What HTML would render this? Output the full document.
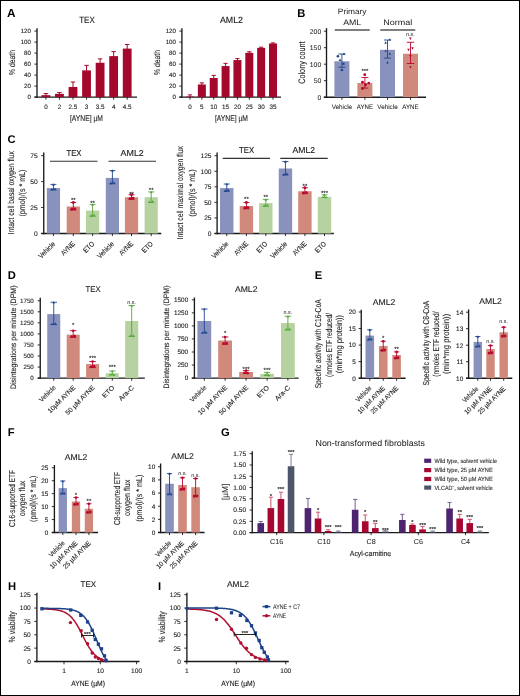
<!DOCTYPE html>
<html><head><meta charset="utf-8"><style>
html,body{margin:0;padding:0;background:#fff;}
svg{display:block;will-change:transform;text-rendering:geometricPrecision;font-family:"Liberation Sans",sans-serif;}
</style></head><body>
<svg width="520" height="696" viewBox="0 0 520 696">
<rect x="0" y="0" width="520" height="696" fill="#fff"/>
<text x="7" y="17.3" font-size="11.8" fill="#000" font-weight="bold">A</text>
<line x1="37" y1="28.2" x2="37" y2="97.77" stroke="#1a1a1a" stroke-width="1.35"/>
<line x1="34.4" y1="97.1" x2="37" y2="97.1" stroke="#1a1a1a" stroke-width="0.9"/>
<text x="31" y="99.33" font-size="6.2" text-anchor="end" fill="#262626" stroke="#262626" stroke-width="0.12">0</text>
<line x1="34.4" y1="86.1" x2="37" y2="86.1" stroke="#1a1a1a" stroke-width="0.9"/>
<text x="31" y="88.33" font-size="6.2" text-anchor="end" fill="#262626" stroke="#262626" stroke-width="0.12">20</text>
<line x1="34.4" y1="75.1" x2="37" y2="75.1" stroke="#1a1a1a" stroke-width="0.9"/>
<text x="31" y="77.33" font-size="6.2" text-anchor="end" fill="#262626" stroke="#262626" stroke-width="0.12">40</text>
<line x1="34.4" y1="64.1" x2="37" y2="64.1" stroke="#1a1a1a" stroke-width="0.9"/>
<text x="31" y="66.33" font-size="6.2" text-anchor="end" fill="#262626" stroke="#262626" stroke-width="0.12">60</text>
<line x1="34.4" y1="53.1" x2="37" y2="53.1" stroke="#1a1a1a" stroke-width="0.9"/>
<text x="31" y="55.33" font-size="6.2" text-anchor="end" fill="#262626" stroke="#262626" stroke-width="0.12">80</text>
<line x1="34.4" y1="42.1" x2="37" y2="42.1" stroke="#1a1a1a" stroke-width="0.9"/>
<text x="31" y="44.33" font-size="6.2" text-anchor="end" fill="#262626" stroke="#262626" stroke-width="0.12">100</text>
<line x1="34.4" y1="31.1" x2="37" y2="31.1" stroke="#1a1a1a" stroke-width="0.9"/>
<text x="31" y="33.33" font-size="6.2" text-anchor="end" fill="#262626" stroke="#262626" stroke-width="0.12">120</text>
<line x1="34.5" y1="97.1" x2="137" y2="97.1" stroke="#1a1a1a" stroke-width="1.35"/>
<text x="87" y="22.6" font-size="9" text-anchor="middle" fill="#1a1a1a" textLength="15.5" lengthAdjust="spacingAndGlyphs" stroke="#1a1a1a" stroke-width="0.12">TEX</text>
<line x1="45.9" y1="93.58" x2="45.9" y2="96.17" stroke="#A4082D" stroke-width="1"/>
<line x1="43.7" y1="93.58" x2="48.1" y2="93.58" stroke="#A4082D" stroke-width="1"/>
<rect x="41.5" y="95.17" width="8.8" height="1.92" fill="#A4082D"/>
<line x1="45.9" y1="97.1" x2="45.9" y2="99.7" stroke="#1a1a1a" stroke-width="0.9"/>
<text x="45.9" y="109" font-size="6.3" text-anchor="middle" fill="#262626" stroke="#262626" stroke-width="0.12">0</text>
<line x1="59.45" y1="92.59" x2="59.45" y2="94.85" stroke="#A4082D" stroke-width="1"/>
<line x1="57.25" y1="92.59" x2="61.65" y2="92.59" stroke="#A4082D" stroke-width="1"/>
<rect x="55.05" y="93.85" width="8.8" height="3.25" fill="#A4082D"/>
<line x1="59.45" y1="97.1" x2="59.45" y2="99.7" stroke="#1a1a1a" stroke-width="0.9"/>
<text x="59.45" y="109" font-size="6.3" text-anchor="middle" fill="#262626" stroke="#262626" stroke-width="0.12">2</text>
<line x1="73" y1="81.97" x2="73" y2="87.98" stroke="#A4082D" stroke-width="1"/>
<line x1="70.8" y1="81.97" x2="75.2" y2="81.97" stroke="#A4082D" stroke-width="1"/>
<rect x="68.6" y="86.98" width="8.8" height="10.12" fill="#A4082D"/>
<line x1="73" y1="97.1" x2="73" y2="99.7" stroke="#1a1a1a" stroke-width="0.9"/>
<text x="73" y="109" font-size="6.3" text-anchor="middle" fill="#262626" stroke="#262626" stroke-width="0.12">2.5</text>
<line x1="86.55" y1="65.36" x2="86.55" y2="71.37" stroke="#A4082D" stroke-width="1"/>
<line x1="84.35" y1="65.36" x2="88.75" y2="65.36" stroke="#A4082D" stroke-width="1"/>
<rect x="82.15" y="70.37" width="8.8" height="26.73" fill="#A4082D"/>
<line x1="86.55" y1="97.1" x2="86.55" y2="99.7" stroke="#1a1a1a" stroke-width="0.9"/>
<text x="86.55" y="109" font-size="6.3" text-anchor="middle" fill="#262626" stroke="#262626" stroke-width="0.12">3</text>
<line x1="100.1" y1="58.87" x2="100.1" y2="63.78" stroke="#A4082D" stroke-width="1"/>
<line x1="97.9" y1="58.87" x2="102.3" y2="58.87" stroke="#A4082D" stroke-width="1"/>
<rect x="95.7" y="62.78" width="8.8" height="34.32" fill="#A4082D"/>
<line x1="100.1" y1="97.1" x2="100.1" y2="99.7" stroke="#1a1a1a" stroke-width="0.9"/>
<text x="100.1" y="109" font-size="6.3" text-anchor="middle" fill="#262626" stroke="#262626" stroke-width="0.12">3.5</text>
<line x1="113.65" y1="51.61" x2="113.65" y2="57.12" stroke="#A4082D" stroke-width="1"/>
<line x1="111.45" y1="51.61" x2="115.85" y2="51.61" stroke="#A4082D" stroke-width="1"/>
<rect x="109.25" y="56.12" width="8.8" height="40.98" fill="#A4082D"/>
<line x1="113.65" y1="97.1" x2="113.65" y2="99.7" stroke="#1a1a1a" stroke-width="0.9"/>
<text x="113.65" y="109" font-size="6.3" text-anchor="middle" fill="#262626" stroke="#262626" stroke-width="0.12">4</text>
<line x1="127.2" y1="44.52" x2="127.2" y2="49.59" stroke="#A4082D" stroke-width="1"/>
<line x1="125" y1="44.52" x2="129.4" y2="44.52" stroke="#A4082D" stroke-width="1"/>
<rect x="122.8" y="48.59" width="8.8" height="48.51" fill="#A4082D"/>
<line x1="127.2" y1="97.1" x2="127.2" y2="99.7" stroke="#1a1a1a" stroke-width="0.9"/>
<text x="127.2" y="109" font-size="6.3" text-anchor="middle" fill="#262626" stroke="#262626" stroke-width="0.12">4.5</text>
<text x="86.5" y="121.3" font-size="8.2" text-anchor="middle" fill="#262626" textLength="33" lengthAdjust="spacingAndGlyphs" stroke="#262626" stroke-width="0.12">[AYNE] µM</text>
<text x="14.8" y="62.5" font-size="8.6" text-anchor="middle" fill="#262626" textLength="25" lengthAdjust="spacingAndGlyphs" transform="rotate(-90 14.8 62.5)" stroke="#262626" stroke-width="0.12">% death</text>
<line x1="181.9" y1="28.2" x2="181.9" y2="97.77" stroke="#1a1a1a" stroke-width="1.35"/>
<line x1="179.3" y1="97.1" x2="181.9" y2="97.1" stroke="#1a1a1a" stroke-width="0.9"/>
<text x="176" y="99.33" font-size="6.2" text-anchor="end" fill="#262626" stroke="#262626" stroke-width="0.12">0</text>
<line x1="179.3" y1="86.1" x2="181.9" y2="86.1" stroke="#1a1a1a" stroke-width="0.9"/>
<text x="176" y="88.33" font-size="6.2" text-anchor="end" fill="#262626" stroke="#262626" stroke-width="0.12">20</text>
<line x1="179.3" y1="75.1" x2="181.9" y2="75.1" stroke="#1a1a1a" stroke-width="0.9"/>
<text x="176" y="77.33" font-size="6.2" text-anchor="end" fill="#262626" stroke="#262626" stroke-width="0.12">40</text>
<line x1="179.3" y1="64.1" x2="181.9" y2="64.1" stroke="#1a1a1a" stroke-width="0.9"/>
<text x="176" y="66.33" font-size="6.2" text-anchor="end" fill="#262626" stroke="#262626" stroke-width="0.12">60</text>
<line x1="179.3" y1="53.1" x2="181.9" y2="53.1" stroke="#1a1a1a" stroke-width="0.9"/>
<text x="176" y="55.33" font-size="6.2" text-anchor="end" fill="#262626" stroke="#262626" stroke-width="0.12">80</text>
<line x1="179.3" y1="42.1" x2="181.9" y2="42.1" stroke="#1a1a1a" stroke-width="0.9"/>
<text x="176" y="44.33" font-size="6.2" text-anchor="end" fill="#262626" stroke="#262626" stroke-width="0.12">100</text>
<line x1="179.3" y1="31.1" x2="181.9" y2="31.1" stroke="#1a1a1a" stroke-width="0.9"/>
<text x="176" y="33.33" font-size="6.2" text-anchor="end" fill="#262626" stroke="#262626" stroke-width="0.12">120</text>
<line x1="179.3" y1="97.1" x2="281" y2="97.1" stroke="#1a1a1a" stroke-width="1.35"/>
<text x="231.5" y="22.8" font-size="9" text-anchor="middle" fill="#1a1a1a" textLength="23" lengthAdjust="spacingAndGlyphs" stroke="#1a1a1a" stroke-width="0.12">AML2</text>
<line x1="190" y1="94.9" x2="190" y2="97.55" stroke="#A4082D" stroke-width="1"/>
<line x1="187.9" y1="94.9" x2="192.1" y2="94.9" stroke="#A4082D" stroke-width="1"/>
<rect x="186" y="96.55" width="8" height="0.55" fill="#A4082D"/>
<line x1="190" y1="97.1" x2="190" y2="99.7" stroke="#1a1a1a" stroke-width="0.9"/>
<text x="190" y="109" font-size="6.3" text-anchor="middle" fill="#262626" stroke="#262626" stroke-width="0.12">0</text>
<line x1="201.86" y1="82.85" x2="201.86" y2="85.5" stroke="#A4082D" stroke-width="1"/>
<line x1="199.76" y1="82.85" x2="203.96" y2="82.85" stroke="#A4082D" stroke-width="1"/>
<rect x="197.86" y="84.5" width="8" height="12.59" fill="#A4082D"/>
<line x1="201.86" y1="97.1" x2="201.86" y2="99.7" stroke="#1a1a1a" stroke-width="0.9"/>
<text x="201.86" y="109" font-size="6.3" text-anchor="middle" fill="#262626" stroke="#262626" stroke-width="0.12">5</text>
<line x1="213.72" y1="75.38" x2="213.72" y2="79.01" stroke="#A4082D" stroke-width="1"/>
<line x1="211.62" y1="75.38" x2="215.82" y2="75.38" stroke="#A4082D" stroke-width="1"/>
<rect x="209.72" y="78.01" width="8" height="19.09" fill="#A4082D"/>
<line x1="213.72" y1="97.1" x2="213.72" y2="99.7" stroke="#1a1a1a" stroke-width="0.9"/>
<text x="213.72" y="109" font-size="6.3" text-anchor="middle" fill="#262626" stroke="#262626" stroke-width="0.12">10</text>
<line x1="225.58" y1="63.33" x2="225.58" y2="67.08" stroke="#A4082D" stroke-width="1"/>
<line x1="223.48" y1="63.33" x2="227.68" y2="63.33" stroke="#A4082D" stroke-width="1"/>
<rect x="221.58" y="66.08" width="8" height="31.02" fill="#A4082D"/>
<line x1="225.58" y1="97.1" x2="225.58" y2="99.7" stroke="#1a1a1a" stroke-width="0.9"/>
<text x="225.58" y="109" font-size="6.3" text-anchor="middle" fill="#262626" stroke="#262626" stroke-width="0.12">15</text>
<line x1="237.44" y1="58.6" x2="237.44" y2="61.08" stroke="#A4082D" stroke-width="1"/>
<line x1="235.34" y1="58.6" x2="239.54" y2="58.6" stroke="#A4082D" stroke-width="1"/>
<rect x="233.44" y="60.08" width="8" height="37.02" fill="#A4082D"/>
<line x1="237.44" y1="97.1" x2="237.44" y2="99.7" stroke="#1a1a1a" stroke-width="0.9"/>
<text x="237.44" y="109" font-size="6.3" text-anchor="middle" fill="#262626" stroke="#262626" stroke-width="0.12">20</text>
<line x1="249.3" y1="51.72" x2="249.3" y2="53.82" stroke="#A4082D" stroke-width="1"/>
<line x1="247.2" y1="51.72" x2="251.4" y2="51.72" stroke="#A4082D" stroke-width="1"/>
<rect x="245.3" y="52.82" width="8" height="44.28" fill="#A4082D"/>
<line x1="249.3" y1="97.1" x2="249.3" y2="99.7" stroke="#1a1a1a" stroke-width="0.9"/>
<text x="249.3" y="109" font-size="6.3" text-anchor="middle" fill="#262626" stroke="#262626" stroke-width="0.12">25</text>
<line x1="261.16" y1="47.21" x2="261.16" y2="48.87" stroke="#A4082D" stroke-width="1"/>
<line x1="259.06" y1="47.21" x2="263.26" y2="47.21" stroke="#A4082D" stroke-width="1"/>
<rect x="257.16" y="47.87" width="8" height="49.23" fill="#A4082D"/>
<line x1="261.16" y1="97.1" x2="261.16" y2="99.7" stroke="#1a1a1a" stroke-width="0.9"/>
<text x="261.16" y="109" font-size="6.3" text-anchor="middle" fill="#262626" stroke="#262626" stroke-width="0.12">30</text>
<line x1="273.02" y1="42.92" x2="273.02" y2="44.47" stroke="#A4082D" stroke-width="1"/>
<line x1="270.92" y1="42.92" x2="275.12" y2="42.92" stroke="#A4082D" stroke-width="1"/>
<rect x="269.02" y="43.47" width="8" height="53.63" fill="#A4082D"/>
<line x1="273.02" y1="97.1" x2="273.02" y2="99.7" stroke="#1a1a1a" stroke-width="0.9"/>
<text x="273.02" y="109" font-size="6.3" text-anchor="middle" fill="#262626" stroke="#262626" stroke-width="0.12">35</text>
<text x="231.5" y="121.3" font-size="8.2" text-anchor="middle" fill="#262626" textLength="33" lengthAdjust="spacingAndGlyphs" stroke="#262626" stroke-width="0.12">[AYNE] µM</text>
<text x="159.5" y="62.5" font-size="8.6" text-anchor="middle" fill="#262626" textLength="25" lengthAdjust="spacingAndGlyphs" transform="rotate(-90 159.5 62.5)" stroke="#262626" stroke-width="0.12">% death</text>
<text x="297.2" y="17" font-size="11.2" fill="#000" font-weight="bold">B</text>
<line x1="326.5" y1="28.1" x2="326.5" y2="97.88" stroke="#1a1a1a" stroke-width="1.35"/>
<line x1="323.9" y1="97.2" x2="326.5" y2="97.2" stroke="#1a1a1a" stroke-width="0.9"/>
<text x="321.2" y="99.65" font-size="6.8" text-anchor="end" fill="#262626" stroke="#262626" stroke-width="0.04">0</text>
<line x1="323.9" y1="80.7" x2="326.5" y2="80.7" stroke="#1a1a1a" stroke-width="0.9"/>
<text x="321.2" y="83.15" font-size="6.8" text-anchor="end" fill="#262626" stroke="#262626" stroke-width="0.04">50</text>
<line x1="323.9" y1="64.2" x2="326.5" y2="64.2" stroke="#1a1a1a" stroke-width="0.9"/>
<text x="321.2" y="66.65" font-size="6.8" text-anchor="end" fill="#262626" stroke="#262626" stroke-width="0.04">100</text>
<line x1="323.9" y1="47.7" x2="326.5" y2="47.7" stroke="#1a1a1a" stroke-width="0.9"/>
<text x="321.2" y="50.15" font-size="6.8" text-anchor="end" fill="#262626" stroke="#262626" stroke-width="0.04">150</text>
<line x1="323.9" y1="31.2" x2="326.5" y2="31.2" stroke="#1a1a1a" stroke-width="0.9"/>
<text x="321.2" y="33.65" font-size="6.8" text-anchor="end" fill="#262626" stroke="#262626" stroke-width="0.04">200</text>
<line x1="323.8" y1="97.2" x2="426" y2="97.2" stroke="#1a1a1a" stroke-width="1.35"/>
<text x="304.8" y="62.6" font-size="9.4" text-anchor="middle" fill="#262626" textLength="42.3" lengthAdjust="spacingAndGlyphs" transform="rotate(-90 304.8 62.6)" stroke="#262626" stroke-width="0.1">Colony count</text>
<text x="352.2" y="14" font-size="7.8" text-anchor="middle" fill="#1a1a1a" textLength="28.7" lengthAdjust="spacingAndGlyphs">Primary</text>
<text x="352.2" y="24.6" font-size="8" text-anchor="middle" fill="#1a1a1a" textLength="18" lengthAdjust="spacingAndGlyphs">AML</text>
<text x="397.7" y="25" font-size="8" text-anchor="middle" fill="#1a1a1a" textLength="29" lengthAdjust="spacingAndGlyphs">Normal</text>
<line x1="334.75" y1="30" x2="369.75" y2="30" stroke="#555" stroke-width="1.5"/>
<line x1="380.25" y1="30" x2="415.25" y2="30" stroke="#555" stroke-width="1.5"/>
<rect x="334.4" y="61.3" width="15" height="35.9" fill="#8991BD"/>
<line x1="341.9" y1="97.2" x2="341.9" y2="99.8" stroke="#1a1a1a" stroke-width="0.9"/>
<text x="341.9" y="109" font-size="6.6" text-anchor="middle" fill="#262626" textLength="20.4" lengthAdjust="spacingAndGlyphs" stroke="#262626" stroke-width="0.05">Vehicle</text>
<rect x="357.4" y="83.01" width="15" height="14.19" fill="#D1897C"/>
<line x1="364.9" y1="97.2" x2="364.9" y2="99.8" stroke="#1a1a1a" stroke-width="0.9"/>
<text x="364.9" y="109" font-size="6.6" text-anchor="middle" fill="#262626" textLength="16.3" lengthAdjust="spacingAndGlyphs" stroke="#262626" stroke-width="0.05">AYNE</text>
<rect x="380" y="49.84" width="15" height="47.36" fill="#8991BD"/>
<line x1="387.5" y1="97.2" x2="387.5" y2="99.8" stroke="#1a1a1a" stroke-width="0.9"/>
<text x="387.5" y="109" font-size="6.6" text-anchor="middle" fill="#262626" textLength="20.4" lengthAdjust="spacingAndGlyphs" stroke="#262626" stroke-width="0.05">Vehicle</text>
<rect x="403" y="53.74" width="15" height="43.46" fill="#D1897C"/>
<line x1="410.5" y1="97.2" x2="410.5" y2="99.8" stroke="#1a1a1a" stroke-width="0.9"/>
<text x="410.5" y="109" font-size="6.6" text-anchor="middle" fill="#262626" textLength="16.3" lengthAdjust="spacingAndGlyphs" stroke="#262626" stroke-width="0.05">AYNE</text>
<line x1="341.9" y1="54" x2="341.9" y2="67.25" stroke="#1E4590" stroke-width="0.9"/>
<line x1="338.4" y1="54" x2="345.4" y2="54" stroke="#1E4590" stroke-width="0.9"/>
<line x1="338.4" y1="67.25" x2="345.4" y2="67.25" stroke="#1E4590" stroke-width="0.9"/>
<circle cx="337.9" cy="56.25" r="1.3" fill="#1E4590"/>
<path d="M342.6 55.01L345.4 55.01L344 52.49Z" stroke="none" fill="#1E4590" stroke-width="1"/>
<path d="M338.6 61.01L341.4 61.01L340 58.49Z" stroke="none" fill="#1E4590" stroke-width="1"/>
<rect x="342.4" y="62.65" width="2.2" height="2.2" fill="#1E4590"/>
<circle cx="341.9" cy="70" r="1.3" fill="#1E4590"/>
<line x1="364.9" y1="77.5" x2="364.9" y2="88.1" stroke="#B8062E" stroke-width="0.9"/>
<line x1="361.4" y1="77.5" x2="368.4" y2="77.5" stroke="#B8062E" stroke-width="0.9"/>
<line x1="361.4" y1="88.1" x2="368.4" y2="88.1" stroke="#B8062E" stroke-width="0.9"/>
<circle cx="364.75" cy="74.75" r="1.4" fill="#B8062E"/>
<circle cx="362.5" cy="82.25" r="1.4" fill="#B8062E"/>
<circle cx="368.75" cy="83.1" r="1.4" fill="#B8062E"/>
<circle cx="365.6" cy="84.75" r="1.4" fill="#B8062E"/>
<circle cx="362.5" cy="88.5" r="1.4" fill="#B8062E"/>
<line x1="387.5" y1="40" x2="387.5" y2="58.1" stroke="#1E4590" stroke-width="0.9"/>
<line x1="383.9" y1="40" x2="391.1" y2="40" stroke="#1E4590" stroke-width="0.9"/>
<line x1="383.9" y1="58.1" x2="391.1" y2="58.1" stroke="#1E4590" stroke-width="0.9"/>
<path d="M388.45 40.57L391.05 40.57L389.75 38.23Z" stroke="none" fill="#1E4590" stroke-width="1"/>
<path d="M384.3 43.67L386.9 43.67L385.6 41.33Z" stroke="none" fill="#1E4590" stroke-width="1"/>
<path d="M384.3 51.77L386.9 51.77L385.6 49.43Z" stroke="none" fill="#1E4590" stroke-width="1"/>
<path d="M388.45 54.67L391.05 54.67L389.75 52.33Z" stroke="none" fill="#1E4590" stroke-width="1"/>
<path d="M386.2 63.42L388.8 63.42L387.5 61.08Z" stroke="none" fill="#1E4590" stroke-width="1"/>
<line x1="410.5" y1="42.25" x2="410.5" y2="63.5" stroke="#B8062E" stroke-width="0.9"/>
<line x1="406.8" y1="42.25" x2="414.2" y2="42.25" stroke="#B8062E" stroke-width="0.9"/>
<line x1="406.8" y1="63.5" x2="414.2" y2="63.5" stroke="#B8062E" stroke-width="0.9"/>
<path d="M409.1 37.58L411.7 37.58L410.4 39.92Z" stroke="none" fill="#B8062E" stroke-width="1"/>
<path d="M407.2 48.83L409.8 48.83L408.5 51.17Z" stroke="none" fill="#B8062E" stroke-width="1"/>
<path d="M411.2 47.33L413.8 47.33L412.5 49.67Z" stroke="none" fill="#B8062E" stroke-width="1"/>
<path d="M409.1 55.08L411.7 55.08L410.4 57.42Z" stroke="none" fill="#B8062E" stroke-width="1"/>
<path d="M409.1 66.33L411.7 66.33L410.4 68.67Z" stroke="none" fill="#B8062E" stroke-width="1"/>
<text x="364.9" y="73.14" font-size="6" text-anchor="middle" fill="#1a1a1a" stroke="#1a1a1a" stroke-width="0.1">***</text>
<text x="410.4" y="35.7" font-size="5.4" text-anchor="middle" fill="#333" stroke="#333" stroke-width="0.05">n.s.</text>
<text x="7.4" y="142.6" font-size="11.2" fill="#000" font-weight="bold">C</text>
<line x1="43.75" y1="152.6" x2="43.75" y2="234.18" stroke="#1a1a1a" stroke-width="1.35"/>
<line x1="41.15" y1="233.5" x2="43.75" y2="233.5" stroke="#1a1a1a" stroke-width="0.9"/>
<text x="37.6" y="235.88" font-size="6.6" text-anchor="end" fill="#262626" stroke="#262626" stroke-width="0.12">0</text>
<line x1="41.15" y1="207.53" x2="43.75" y2="207.53" stroke="#1a1a1a" stroke-width="0.9"/>
<text x="37.6" y="209.91" font-size="6.6" text-anchor="end" fill="#262626" stroke="#262626" stroke-width="0.12">25</text>
<line x1="41.15" y1="181.57" x2="43.75" y2="181.57" stroke="#1a1a1a" stroke-width="0.9"/>
<text x="37.6" y="183.94" font-size="6.6" text-anchor="end" fill="#262626" stroke="#262626" stroke-width="0.12">50</text>
<line x1="41.15" y1="155.6" x2="43.75" y2="155.6" stroke="#1a1a1a" stroke-width="0.9"/>
<text x="37.6" y="157.98" font-size="6.6" text-anchor="end" fill="#262626" stroke="#262626" stroke-width="0.12">75</text>
<line x1="41.2" y1="233.5" x2="161.3" y2="233.5" stroke="#1a1a1a" stroke-width="1.35"/>
<text x="74" y="156.1" font-size="8.6" text-anchor="middle" fill="#1a1a1a" textLength="15" lengthAdjust="spacingAndGlyphs" stroke="#1a1a1a" stroke-width="0.12">TEX</text>
<text x="132.2" y="156.2" font-size="8.6" text-anchor="middle" fill="#1a1a1a" textLength="23.2" lengthAdjust="spacingAndGlyphs" stroke="#1a1a1a" stroke-width="0.12">AML2</text>
<line x1="50" y1="161.25" x2="97.5" y2="161.25" stroke="#333" stroke-width="1.1"/>
<line x1="108.5" y1="161.25" x2="156" y2="161.25" stroke="#333" stroke-width="1.1"/>
<rect x="46.85" y="188.1" width="13.2" height="45.4" fill="#8991BD"/>
<line x1="53.45" y1="184.4" x2="53.45" y2="190" stroke="#1E4590" stroke-width="0.9"/>
<line x1="50.45" y1="184.4" x2="56.45" y2="184.4" stroke="#1E4590" stroke-width="0.9"/>
<line x1="50.45" y1="190" x2="56.45" y2="190" stroke="#1E4590" stroke-width="0.9"/>
<path d="M52.05 185.66L54.85 185.66L53.45 183.14Z" stroke="none" fill="#1E4590" stroke-width="1"/>
<path d="M50.55 190.46L53.35 190.46L51.95 187.94Z" stroke="none" fill="#1E4590" stroke-width="1"/>
<path d="M53.55 190.06L56.35 190.06L54.95 187.54Z" stroke="none" fill="#1E4590" stroke-width="1"/>
<line x1="53.45" y1="233.5" x2="53.45" y2="236.1" stroke="#1a1a1a" stroke-width="0.9"/>
<text x="55.65" y="244.4" font-size="7.2" text-anchor="end" fill="#262626" textLength="20.5" lengthAdjust="spacingAndGlyphs" transform="rotate(-45 55.65 244.4)" stroke="#262626" stroke-width="0.12">Vehicle</text>
<rect x="66.7" y="206.5" width="13.2" height="27" fill="#D1897C"/>
<line x1="73.3" y1="202.5" x2="73.3" y2="210" stroke="#B8062E" stroke-width="0.9"/>
<line x1="70.3" y1="202.5" x2="76.3" y2="202.5" stroke="#B8062E" stroke-width="0.9"/>
<line x1="70.3" y1="210" x2="76.3" y2="210" stroke="#B8062E" stroke-width="0.9"/>
<circle cx="73.3" cy="202.5" r="1.4" fill="#B8062E"/>
<circle cx="71.8" cy="209.2" r="1.4" fill="#B8062E"/>
<circle cx="74.8" cy="208.8" r="1.4" fill="#B8062E"/>
<text x="73.3" y="201.74" font-size="6" text-anchor="middle" fill="#1a1a1a" stroke="#1a1a1a" stroke-width="0.1">**</text>
<line x1="73.3" y1="233.5" x2="73.3" y2="236.1" stroke="#1a1a1a" stroke-width="0.9"/>
<text x="75.5" y="244.4" font-size="7.2" text-anchor="end" fill="#262626" textLength="16.5" lengthAdjust="spacingAndGlyphs" transform="rotate(-45 75.5 244.4)" stroke="#262626" stroke-width="0.12">AYNE</text>
<rect x="86" y="210.6" width="13.2" height="22.9" fill="#B5D2A0"/>
<line x1="92.6" y1="204.4" x2="92.6" y2="216.25" stroke="#57A83A" stroke-width="0.9"/>
<line x1="89.6" y1="204.4" x2="95.6" y2="204.4" stroke="#57A83A" stroke-width="0.9"/>
<line x1="89.6" y1="216.25" x2="95.6" y2="216.25" stroke="#57A83A" stroke-width="0.9"/>
<path d="M91.2 205.66L94 205.66L92.6 203.14Z" stroke="none" fill="#57A83A" stroke-width="1"/>
<path d="M89.7 216.71L92.5 216.71L91.1 214.19Z" stroke="none" fill="#57A83A" stroke-width="1"/>
<path d="M92.7 216.31L95.5 216.31L94.1 213.79Z" stroke="none" fill="#57A83A" stroke-width="1"/>
<text x="92.6" y="204.54" font-size="6" text-anchor="middle" fill="#1a1a1a" stroke="#1a1a1a" stroke-width="0.1">**</text>
<line x1="92.6" y1="233.5" x2="92.6" y2="236.1" stroke="#1a1a1a" stroke-width="0.9"/>
<text x="94.8" y="244.4" font-size="7.2" text-anchor="end" fill="#262626" textLength="12.5" lengthAdjust="spacingAndGlyphs" transform="rotate(-45 94.8 244.4)" stroke="#262626" stroke-width="0.12">ETO</text>
<rect x="105.8" y="177.9" width="13.2" height="55.6" fill="#8991BD"/>
<line x1="112.4" y1="170.6" x2="112.4" y2="183.75" stroke="#1E4590" stroke-width="0.9"/>
<line x1="109.4" y1="170.6" x2="115.4" y2="170.6" stroke="#1E4590" stroke-width="0.9"/>
<line x1="109.4" y1="183.75" x2="115.4" y2="183.75" stroke="#1E4590" stroke-width="0.9"/>
<path d="M111 171.86L113.8 171.86L112.4 169.34Z" stroke="none" fill="#1E4590" stroke-width="1"/>
<path d="M109.5 184.21L112.3 184.21L110.9 181.69Z" stroke="none" fill="#1E4590" stroke-width="1"/>
<path d="M112.5 183.81L115.3 183.81L113.9 181.29Z" stroke="none" fill="#1E4590" stroke-width="1"/>
<line x1="112.4" y1="233.5" x2="112.4" y2="236.1" stroke="#1a1a1a" stroke-width="0.9"/>
<text x="114.6" y="244.4" font-size="7.2" text-anchor="end" fill="#262626" textLength="20.5" lengthAdjust="spacingAndGlyphs" transform="rotate(-45 114.6 244.4)" stroke="#262626" stroke-width="0.12">Vehicle</text>
<rect x="124.9" y="197.2" width="13.2" height="36.3" fill="#D1897C"/>
<line x1="131.5" y1="194.75" x2="131.5" y2="199.4" stroke="#B8062E" stroke-width="0.9"/>
<line x1="128.5" y1="194.75" x2="134.5" y2="194.75" stroke="#B8062E" stroke-width="0.9"/>
<line x1="128.5" y1="199.4" x2="134.5" y2="199.4" stroke="#B8062E" stroke-width="0.9"/>
<circle cx="131.5" cy="194.75" r="1.4" fill="#B8062E"/>
<circle cx="130" cy="198.6" r="1.4" fill="#B8062E"/>
<circle cx="133" cy="198.2" r="1.4" fill="#B8062E"/>
<text x="131.5" y="195.74" font-size="6" text-anchor="middle" fill="#1a1a1a" stroke="#1a1a1a" stroke-width="0.1">**</text>
<line x1="131.5" y1="233.5" x2="131.5" y2="236.1" stroke="#1a1a1a" stroke-width="0.9"/>
<text x="133.7" y="244.4" font-size="7.2" text-anchor="end" fill="#262626" textLength="16.5" lengthAdjust="spacingAndGlyphs" transform="rotate(-45 133.7 244.4)" stroke="#262626" stroke-width="0.12">AYNE</text>
<rect x="144.6" y="197.2" width="13.2" height="36.3" fill="#B5D2A0"/>
<line x1="151.2" y1="191.9" x2="151.2" y2="202.5" stroke="#57A83A" stroke-width="0.9"/>
<line x1="148.2" y1="191.9" x2="154.2" y2="191.9" stroke="#57A83A" stroke-width="0.9"/>
<line x1="148.2" y1="202.5" x2="154.2" y2="202.5" stroke="#57A83A" stroke-width="0.9"/>
<path d="M149.8 193.16L152.6 193.16L151.2 190.64Z" stroke="none" fill="#57A83A" stroke-width="1"/>
<path d="M148.3 202.96L151.1 202.96L149.7 200.44Z" stroke="none" fill="#57A83A" stroke-width="1"/>
<path d="M151.3 202.56L154.1 202.56L152.7 200.04Z" stroke="none" fill="#57A83A" stroke-width="1"/>
<text x="151.2" y="192.14" font-size="6" text-anchor="middle" fill="#1a1a1a" stroke="#1a1a1a" stroke-width="0.1">**</text>
<line x1="151.2" y1="233.5" x2="151.2" y2="236.1" stroke="#1a1a1a" stroke-width="0.9"/>
<text x="153.4" y="244.4" font-size="7.2" text-anchor="end" fill="#262626" textLength="12.5" lengthAdjust="spacingAndGlyphs" transform="rotate(-45 153.4 244.4)" stroke="#262626" stroke-width="0.12">ETO</text>
<text x="14.2" y="192.7" font-size="8.6" text-anchor="middle" fill="#262626" textLength="83.4" lengthAdjust="spacingAndGlyphs" transform="rotate(-90 14.2 192.7)" stroke="#262626" stroke-width="0.12">Intact cell basal oxygen flux</text>
<text x="25.3" y="193" font-size="8.6" text-anchor="middle" fill="#262626" textLength="47" lengthAdjust="spacingAndGlyphs" transform="rotate(-90 25.3 193)" stroke="#262626" stroke-width="0.12">(pmol)/(s * mL)</text>
<line x1="217.1" y1="152.5" x2="217.1" y2="234.18" stroke="#1a1a1a" stroke-width="1.35"/>
<line x1="214.5" y1="233.5" x2="217.1" y2="233.5" stroke="#1a1a1a" stroke-width="0.9"/>
<text x="211.5" y="235.88" font-size="6.6" text-anchor="end" fill="#262626" stroke="#262626" stroke-width="0.12">0</text>
<line x1="214.5" y1="217.94" x2="217.1" y2="217.94" stroke="#1a1a1a" stroke-width="0.9"/>
<text x="211.5" y="220.32" font-size="6.6" text-anchor="end" fill="#262626" stroke="#262626" stroke-width="0.12">25</text>
<line x1="214.5" y1="202.38" x2="217.1" y2="202.38" stroke="#1a1a1a" stroke-width="0.9"/>
<text x="211.5" y="204.76" font-size="6.6" text-anchor="end" fill="#262626" stroke="#262626" stroke-width="0.12">50</text>
<line x1="214.5" y1="186.82" x2="217.1" y2="186.82" stroke="#1a1a1a" stroke-width="0.9"/>
<text x="211.5" y="189.2" font-size="6.6" text-anchor="end" fill="#262626" stroke="#262626" stroke-width="0.12">75</text>
<line x1="214.5" y1="171.26" x2="217.1" y2="171.26" stroke="#1a1a1a" stroke-width="0.9"/>
<text x="211.5" y="173.64" font-size="6.6" text-anchor="end" fill="#262626" stroke="#262626" stroke-width="0.12">100</text>
<line x1="214.5" y1="155.7" x2="217.1" y2="155.7" stroke="#1a1a1a" stroke-width="0.9"/>
<text x="211.5" y="158.08" font-size="6.6" text-anchor="end" fill="#262626" stroke="#262626" stroke-width="0.12">125</text>
<line x1="214.5" y1="233.5" x2="333.8" y2="233.5" stroke="#1a1a1a" stroke-width="1.35"/>
<text x="246.6" y="153.1" font-size="8.6" text-anchor="middle" fill="#1a1a1a" textLength="15" lengthAdjust="spacingAndGlyphs" stroke="#1a1a1a" stroke-width="0.12">TEX</text>
<text x="303.8" y="153.1" font-size="8.6" text-anchor="middle" fill="#1a1a1a" textLength="22.5" lengthAdjust="spacingAndGlyphs" stroke="#1a1a1a" stroke-width="0.12">AML2</text>
<line x1="222.75" y1="158.4" x2="270" y2="158.4" stroke="#333" stroke-width="1.1"/>
<line x1="280.25" y1="158.4" x2="327.75" y2="158.4" stroke="#333" stroke-width="1.1"/>
<rect x="220.05" y="188.1" width="13.4" height="45.4" fill="#8991BD"/>
<line x1="226.75" y1="184" x2="226.75" y2="191.25" stroke="#1E4590" stroke-width="0.9"/>
<line x1="223.75" y1="184" x2="229.75" y2="184" stroke="#1E4590" stroke-width="0.9"/>
<line x1="223.75" y1="191.25" x2="229.75" y2="191.25" stroke="#1E4590" stroke-width="0.9"/>
<path d="M225.35 185.26L228.15 185.26L226.75 182.74Z" stroke="none" fill="#1E4590" stroke-width="1"/>
<path d="M223.85 191.71L226.65 191.71L225.25 189.19Z" stroke="none" fill="#1E4590" stroke-width="1"/>
<path d="M226.85 191.31L229.65 191.31L228.25 188.79Z" stroke="none" fill="#1E4590" stroke-width="1"/>
<line x1="226.75" y1="233.5" x2="226.75" y2="236.1" stroke="#1a1a1a" stroke-width="0.9"/>
<text x="228.95" y="244.4" font-size="7.2" text-anchor="end" fill="#262626" textLength="20.5" lengthAdjust="spacingAndGlyphs" transform="rotate(-45 228.95 244.4)" stroke="#262626" stroke-width="0.12">Vehicle</text>
<rect x="239.7" y="206" width="13.4" height="27.5" fill="#D1897C"/>
<line x1="246.4" y1="202.5" x2="246.4" y2="208.75" stroke="#B8062E" stroke-width="0.9"/>
<line x1="243.4" y1="202.5" x2="249.4" y2="202.5" stroke="#B8062E" stroke-width="0.9"/>
<line x1="243.4" y1="208.75" x2="249.4" y2="208.75" stroke="#B8062E" stroke-width="0.9"/>
<circle cx="246.4" cy="202.5" r="1.4" fill="#B8062E"/>
<circle cx="244.9" cy="207.95" r="1.4" fill="#B8062E"/>
<circle cx="247.9" cy="207.55" r="1.4" fill="#B8062E"/>
<text x="246.4" y="200.74" font-size="6" text-anchor="middle" fill="#1a1a1a" stroke="#1a1a1a" stroke-width="0.1">**</text>
<line x1="246.4" y1="233.5" x2="246.4" y2="236.1" stroke="#1a1a1a" stroke-width="0.9"/>
<text x="248.6" y="244.4" font-size="7.2" text-anchor="end" fill="#262626" textLength="16.5" lengthAdjust="spacingAndGlyphs" transform="rotate(-45 248.6 244.4)" stroke="#262626" stroke-width="0.12">AYNE</text>
<rect x="259.1" y="203.1" width="13.4" height="30.4" fill="#B5D2A0"/>
<line x1="265.8" y1="199.4" x2="265.8" y2="206.25" stroke="#57A83A" stroke-width="0.9"/>
<line x1="262.8" y1="199.4" x2="268.8" y2="199.4" stroke="#57A83A" stroke-width="0.9"/>
<line x1="262.8" y1="206.25" x2="268.8" y2="206.25" stroke="#57A83A" stroke-width="0.9"/>
<path d="M264.4 200.66L267.2 200.66L265.8 198.14Z" stroke="none" fill="#57A83A" stroke-width="1"/>
<path d="M262.9 206.71L265.7 206.71L264.3 204.19Z" stroke="none" fill="#57A83A" stroke-width="1"/>
<path d="M265.9 206.31L268.7 206.31L267.3 203.79Z" stroke="none" fill="#57A83A" stroke-width="1"/>
<text x="265.8" y="198.64" font-size="6" text-anchor="middle" fill="#1a1a1a" stroke="#1a1a1a" stroke-width="0.1">**</text>
<line x1="265.8" y1="233.5" x2="265.8" y2="236.1" stroke="#1a1a1a" stroke-width="0.9"/>
<text x="268" y="244.4" font-size="7.2" text-anchor="end" fill="#262626" textLength="12.5" lengthAdjust="spacingAndGlyphs" transform="rotate(-45 268 244.4)" stroke="#262626" stroke-width="0.12">ETO</text>
<rect x="278.75" y="168.5" width="13.4" height="65" fill="#8991BD"/>
<line x1="285.45" y1="161.5" x2="285.45" y2="175" stroke="#1E4590" stroke-width="0.9"/>
<line x1="282.45" y1="161.5" x2="288.45" y2="161.5" stroke="#1E4590" stroke-width="0.9"/>
<line x1="282.45" y1="175" x2="288.45" y2="175" stroke="#1E4590" stroke-width="0.9"/>
<path d="M284.05 162.76L286.85 162.76L285.45 160.24Z" stroke="none" fill="#1E4590" stroke-width="1"/>
<path d="M282.55 175.46L285.35 175.46L283.95 172.94Z" stroke="none" fill="#1E4590" stroke-width="1"/>
<path d="M285.55 175.06L288.35 175.06L286.95 172.54Z" stroke="none" fill="#1E4590" stroke-width="1"/>
<line x1="285.45" y1="233.5" x2="285.45" y2="236.1" stroke="#1a1a1a" stroke-width="0.9"/>
<text x="287.65" y="244.4" font-size="7.2" text-anchor="end" fill="#262626" textLength="20.5" lengthAdjust="spacingAndGlyphs" transform="rotate(-45 287.65 244.4)" stroke="#262626" stroke-width="0.12">Vehicle</text>
<rect x="298.2" y="191.25" width="13.4" height="42.25" fill="#D1897C"/>
<line x1="304.9" y1="187.75" x2="304.9" y2="193.75" stroke="#B8062E" stroke-width="0.9"/>
<line x1="301.9" y1="187.75" x2="307.9" y2="187.75" stroke="#B8062E" stroke-width="0.9"/>
<line x1="301.9" y1="193.75" x2="307.9" y2="193.75" stroke="#B8062E" stroke-width="0.9"/>
<circle cx="304.9" cy="187.75" r="1.4" fill="#B8062E"/>
<circle cx="303.4" cy="192.95" r="1.4" fill="#B8062E"/>
<circle cx="306.4" cy="192.55" r="1.4" fill="#B8062E"/>
<text x="304.9" y="187.74" font-size="6" text-anchor="middle" fill="#1a1a1a" stroke="#1a1a1a" stroke-width="0.1">**</text>
<line x1="304.9" y1="233.5" x2="304.9" y2="236.1" stroke="#1a1a1a" stroke-width="0.9"/>
<text x="307.1" y="244.4" font-size="7.2" text-anchor="end" fill="#262626" textLength="16.5" lengthAdjust="spacingAndGlyphs" transform="rotate(-45 307.1 244.4)" stroke="#262626" stroke-width="0.12">AYNE</text>
<rect x="317.8" y="196.9" width="13.4" height="36.6" fill="#B5D2A0"/>
<line x1="324.5" y1="194.75" x2="324.5" y2="197.5" stroke="#57A83A" stroke-width="0.9"/>
<line x1="321.5" y1="194.75" x2="327.5" y2="194.75" stroke="#57A83A" stroke-width="0.9"/>
<line x1="321.5" y1="197.5" x2="327.5" y2="197.5" stroke="#57A83A" stroke-width="0.9"/>
<path d="M323.1 196.01L325.9 196.01L324.5 193.49Z" stroke="none" fill="#57A83A" stroke-width="1"/>
<path d="M321.6 197.96L324.4 197.96L323 195.44Z" stroke="none" fill="#57A83A" stroke-width="1"/>
<path d="M324.6 198.36L327.4 198.36L326 195.84Z" stroke="none" fill="#57A83A" stroke-width="1"/>
<text x="324.5" y="194.84" font-size="6" text-anchor="middle" fill="#1a1a1a" stroke="#1a1a1a" stroke-width="0.1">***</text>
<line x1="324.5" y1="233.5" x2="324.5" y2="236.1" stroke="#1a1a1a" stroke-width="0.9"/>
<text x="326.7" y="244.4" font-size="7.2" text-anchor="end" fill="#262626" textLength="12.5" lengthAdjust="spacingAndGlyphs" transform="rotate(-45 326.7 244.4)" stroke="#262626" stroke-width="0.12">ETO</text>
<text x="183.3" y="192.75" font-size="8.6" text-anchor="middle" fill="#262626" textLength="93.5" lengthAdjust="spacingAndGlyphs" transform="rotate(-90 183.3 192.75)" stroke="#262626" stroke-width="0.12">Intact cell maximal oxygen flux</text>
<text x="195.2" y="193" font-size="8.6" text-anchor="middle" fill="#262626" textLength="47.5" lengthAdjust="spacingAndGlyphs" transform="rotate(-90 195.2 193)" stroke="#262626" stroke-width="0.12">(pmol)/(s * mL)</text>
<text x="7.7" y="278.8" font-size="11.2" fill="#000" font-weight="bold">D</text>
<line x1="40.25" y1="297.7" x2="40.25" y2="378.78" stroke="#1a1a1a" stroke-width="1.35"/>
<line x1="37.65" y1="378.1" x2="40.25" y2="378.1" stroke="#1a1a1a" stroke-width="0.9"/>
<text x="33.8" y="380.33" font-size="6.2" text-anchor="end" fill="#262626" stroke="#262626" stroke-width="0.12">0</text>
<line x1="37.65" y1="367.05" x2="40.25" y2="367.05" stroke="#1a1a1a" stroke-width="0.9"/>
<text x="33.8" y="369.28" font-size="6.2" text-anchor="end" fill="#262626" stroke="#262626" stroke-width="0.12">250</text>
<line x1="37.65" y1="356" x2="40.25" y2="356" stroke="#1a1a1a" stroke-width="0.9"/>
<text x="33.8" y="358.23" font-size="6.2" text-anchor="end" fill="#262626" stroke="#262626" stroke-width="0.12">500</text>
<line x1="37.65" y1="344.95" x2="40.25" y2="344.95" stroke="#1a1a1a" stroke-width="0.9"/>
<text x="33.8" y="347.18" font-size="6.2" text-anchor="end" fill="#262626" stroke="#262626" stroke-width="0.12">750</text>
<line x1="37.65" y1="333.9" x2="40.25" y2="333.9" stroke="#1a1a1a" stroke-width="0.9"/>
<text x="33.8" y="336.13" font-size="6.2" text-anchor="end" fill="#262626" stroke="#262626" stroke-width="0.12">1000</text>
<line x1="37.65" y1="322.85" x2="40.25" y2="322.85" stroke="#1a1a1a" stroke-width="0.9"/>
<text x="33.8" y="325.08" font-size="6.2" text-anchor="end" fill="#262626" stroke="#262626" stroke-width="0.12">1250</text>
<line x1="37.65" y1="311.8" x2="40.25" y2="311.8" stroke="#1a1a1a" stroke-width="0.9"/>
<text x="33.8" y="314.03" font-size="6.2" text-anchor="end" fill="#262626" stroke="#262626" stroke-width="0.12">1500</text>
<line x1="37.65" y1="300.75" x2="40.25" y2="300.75" stroke="#1a1a1a" stroke-width="0.9"/>
<text x="33.8" y="302.98" font-size="6.2" text-anchor="end" fill="#262626" stroke="#262626" stroke-width="0.12">1750</text>
<line x1="37.6" y1="378.1" x2="144.8" y2="378.1" stroke="#1a1a1a" stroke-width="1.35"/>
<text x="93.1" y="292.3" font-size="8.4" text-anchor="middle" fill="#1a1a1a" textLength="15" lengthAdjust="spacingAndGlyphs" stroke="#1a1a1a" stroke-width="0.12">TEX</text>
<rect x="47.25" y="314.1" width="13" height="64" fill="#8991BD"/>
<line x1="53.75" y1="302.25" x2="53.75" y2="324.6" stroke="#1E4590" stroke-width="0.9"/>
<line x1="50.5" y1="302.25" x2="57" y2="302.25" stroke="#1E4590" stroke-width="0.9"/>
<line x1="50.5" y1="324.6" x2="57" y2="324.6" stroke="#1E4590" stroke-width="0.9"/>
<path d="M52.45 303.42L55.05 303.42L53.75 301.08Z" stroke="none" fill="#1E4590" stroke-width="1"/>
<path d="M50.95 324.97L53.55 324.97L52.25 322.63Z" stroke="none" fill="#1E4590" stroke-width="1"/>
<path d="M53.95 324.57L56.55 324.57L55.25 322.23Z" stroke="none" fill="#1E4590" stroke-width="1"/>
<line x1="53.75" y1="378.1" x2="53.75" y2="380.7" stroke="#1a1a1a" stroke-width="0.9"/>
<text x="56.35" y="388.1" font-size="6.6" text-anchor="end" fill="#262626" textLength="20.5" lengthAdjust="spacingAndGlyphs" transform="rotate(-45 56.35 388.1)" stroke="#262626" stroke-width="0.12">Vehicle</text>
<rect x="66.7" y="334.7" width="13" height="43.4" fill="#D1897C"/>
<line x1="73.2" y1="330.7" x2="73.2" y2="337.3" stroke="#B8062E" stroke-width="0.9"/>
<line x1="69.95" y1="330.7" x2="76.45" y2="330.7" stroke="#B8062E" stroke-width="0.9"/>
<line x1="69.95" y1="337.3" x2="76.45" y2="337.3" stroke="#B8062E" stroke-width="0.9"/>
<circle cx="73.2" cy="330.7" r="1.3" fill="#B8062E"/>
<circle cx="71.7" cy="336.5" r="1.3" fill="#B8062E"/>
<circle cx="74.7" cy="336.1" r="1.3" fill="#B8062E"/>
<text x="73.2" y="327.34" font-size="6" text-anchor="middle" fill="#1a1a1a" stroke="#1a1a1a" stroke-width="0.1">*</text>
<line x1="73.2" y1="378.1" x2="73.2" y2="380.7" stroke="#1a1a1a" stroke-width="0.9"/>
<text x="75.8" y="388.1" font-size="6.6" text-anchor="end" fill="#262626" textLength="36" lengthAdjust="spacingAndGlyphs" transform="rotate(-45 75.8 388.1)" stroke="#262626" stroke-width="0.12">10µM AYNE</text>
<rect x="86.1" y="364.1" width="13" height="14" fill="#D1897C"/>
<line x1="92.6" y1="361.5" x2="92.6" y2="367.6" stroke="#B8062E" stroke-width="0.9"/>
<line x1="89.35" y1="361.5" x2="95.85" y2="361.5" stroke="#B8062E" stroke-width="0.9"/>
<line x1="89.35" y1="367.6" x2="95.85" y2="367.6" stroke="#B8062E" stroke-width="0.9"/>
<circle cx="92.6" cy="361.5" r="1.3" fill="#B8062E"/>
<circle cx="91.1" cy="366.8" r="1.3" fill="#B8062E"/>
<circle cx="94.1" cy="366.4" r="1.3" fill="#B8062E"/>
<text x="92.6" y="359.84" font-size="6" text-anchor="middle" fill="#1a1a1a" stroke="#1a1a1a" stroke-width="0.1">***</text>
<line x1="92.6" y1="378.1" x2="92.6" y2="380.7" stroke="#1a1a1a" stroke-width="0.9"/>
<text x="95.2" y="388.1" font-size="6.6" text-anchor="end" fill="#262626" textLength="38.5" lengthAdjust="spacingAndGlyphs" transform="rotate(-45 95.2 388.1)" stroke="#262626" stroke-width="0.12">50 µM AYNE</text>
<rect x="105.8" y="373.3" width="13" height="4.8" fill="#B5D2A0"/>
<line x1="112.3" y1="371" x2="112.3" y2="375" stroke="#57A83A" stroke-width="0.9"/>
<line x1="109.05" y1="371" x2="115.55" y2="371" stroke="#57A83A" stroke-width="0.9"/>
<line x1="109.05" y1="375" x2="115.55" y2="375" stroke="#57A83A" stroke-width="0.9"/>
<path d="M111 372.17L113.6 372.17L112.3 369.83Z" stroke="none" fill="#57A83A" stroke-width="1"/>
<path d="M109.5 375.37L112.1 375.37L110.8 373.03Z" stroke="none" fill="#57A83A" stroke-width="1"/>
<path d="M112.5 375.77L115.1 375.77L113.8 373.43Z" stroke="none" fill="#57A83A" stroke-width="1"/>
<text x="112.3" y="369.34" font-size="6" text-anchor="middle" fill="#1a1a1a" stroke="#1a1a1a" stroke-width="0.1">***</text>
<line x1="112.3" y1="378.1" x2="112.3" y2="380.7" stroke="#1a1a1a" stroke-width="0.9"/>
<text x="114.9" y="388.1" font-size="6.6" text-anchor="end" fill="#262626" textLength="14.5" lengthAdjust="spacingAndGlyphs" transform="rotate(-45 114.9 388.1)" stroke="#262626" stroke-width="0.12">ETO</text>
<rect x="125.2" y="321" width="13" height="57.1" fill="#B5D2A0"/>
<line x1="131.7" y1="305.6" x2="131.7" y2="336.5" stroke="#57A83A" stroke-width="0.9"/>
<line x1="128.45" y1="305.6" x2="134.95" y2="305.6" stroke="#57A83A" stroke-width="0.9"/>
<line x1="128.45" y1="336.5" x2="134.95" y2="336.5" stroke="#57A83A" stroke-width="0.9"/>
<path d="M130.4 306.77L133 306.77L131.7 304.43Z" stroke="none" fill="#57A83A" stroke-width="1"/>
<path d="M128.9 336.87L131.5 336.87L130.2 334.53Z" stroke="none" fill="#57A83A" stroke-width="1"/>
<path d="M131.9 336.47L134.5 336.47L133.2 334.13Z" stroke="none" fill="#57A83A" stroke-width="1"/>
<text x="131.7" y="303.6" font-size="5.4" text-anchor="middle" fill="#333" stroke="#333" stroke-width="0.05">n.s.</text>
<line x1="131.7" y1="378.1" x2="131.7" y2="380.7" stroke="#1a1a1a" stroke-width="0.9"/>
<text x="134.3" y="388.1" font-size="6.6" text-anchor="end" fill="#262626" textLength="18.5" lengthAdjust="spacingAndGlyphs" transform="rotate(-45 134.3 388.1)" stroke="#262626" stroke-width="0.12">Ara-C</text>
<text x="15.5" y="337.25" font-size="7.9" text-anchor="middle" fill="#262626" textLength="103.5" lengthAdjust="spacingAndGlyphs" transform="rotate(-90 15.5 337.25)" stroke="#262626" stroke-width="0.12">Disintegrations per minute (DPM)</text>
<line x1="194.4" y1="297.5" x2="194.4" y2="378.78" stroke="#1a1a1a" stroke-width="1.35"/>
<line x1="191.8" y1="378.1" x2="194.4" y2="378.1" stroke="#1a1a1a" stroke-width="0.9"/>
<text x="188.2" y="380.4" font-size="6.4" text-anchor="end" fill="#262626" stroke="#262626" stroke-width="0.12">0</text>
<line x1="191.8" y1="365.05" x2="194.4" y2="365.05" stroke="#1a1a1a" stroke-width="0.9"/>
<text x="188.2" y="367.35" font-size="6.4" text-anchor="end" fill="#262626" stroke="#262626" stroke-width="0.12">250</text>
<line x1="191.8" y1="352" x2="194.4" y2="352" stroke="#1a1a1a" stroke-width="0.9"/>
<text x="188.2" y="354.3" font-size="6.4" text-anchor="end" fill="#262626" stroke="#262626" stroke-width="0.12">500</text>
<line x1="191.8" y1="338.95" x2="194.4" y2="338.95" stroke="#1a1a1a" stroke-width="0.9"/>
<text x="188.2" y="341.25" font-size="6.4" text-anchor="end" fill="#262626" stroke="#262626" stroke-width="0.12">750</text>
<line x1="191.8" y1="325.9" x2="194.4" y2="325.9" stroke="#1a1a1a" stroke-width="0.9"/>
<text x="188.2" y="328.2" font-size="6.4" text-anchor="end" fill="#262626" stroke="#262626" stroke-width="0.12">1000</text>
<line x1="191.8" y1="312.85" x2="194.4" y2="312.85" stroke="#1a1a1a" stroke-width="0.9"/>
<text x="188.2" y="315.15" font-size="6.4" text-anchor="end" fill="#262626" stroke="#262626" stroke-width="0.12">1250</text>
<line x1="191.8" y1="299.8" x2="194.4" y2="299.8" stroke="#1a1a1a" stroke-width="0.9"/>
<text x="188.2" y="302.1" font-size="6.4" text-anchor="end" fill="#262626" stroke="#262626" stroke-width="0.12">1500</text>
<line x1="191.8" y1="378.1" x2="298.6" y2="378.1" stroke="#1a1a1a" stroke-width="1.35"/>
<text x="246.2" y="292.3" font-size="8.4" text-anchor="middle" fill="#1a1a1a" textLength="22.5" lengthAdjust="spacingAndGlyphs" stroke="#1a1a1a" stroke-width="0.12">AML2</text>
<rect x="197.4" y="321" width="13.8" height="57.1" fill="#8991BD"/>
<line x1="204.3" y1="309" x2="204.3" y2="333.1" stroke="#1E4590" stroke-width="0.9"/>
<line x1="201.05" y1="309" x2="207.55" y2="309" stroke="#1E4590" stroke-width="0.9"/>
<line x1="201.05" y1="333.1" x2="207.55" y2="333.1" stroke="#1E4590" stroke-width="0.9"/>
<path d="M203 310.17L205.6 310.17L204.3 307.83Z" stroke="none" fill="#1E4590" stroke-width="1"/>
<path d="M201.5 333.47L204.1 333.47L202.8 331.13Z" stroke="none" fill="#1E4590" stroke-width="1"/>
<path d="M204.5 333.07L207.1 333.07L205.8 330.73Z" stroke="none" fill="#1E4590" stroke-width="1"/>
<line x1="204.3" y1="378.1" x2="204.3" y2="380.7" stroke="#1a1a1a" stroke-width="0.9"/>
<text x="206.9" y="388.1" font-size="6.6" text-anchor="end" fill="#262626" textLength="20.5" lengthAdjust="spacingAndGlyphs" transform="rotate(-45 206.9 388.1)" stroke="#262626" stroke-width="0.12">Vehicle</text>
<rect x="218.2" y="340.5" width="13.8" height="37.6" fill="#D1897C"/>
<line x1="225.1" y1="337" x2="225.1" y2="344.3" stroke="#B8062E" stroke-width="0.9"/>
<line x1="221.85" y1="337" x2="228.35" y2="337" stroke="#B8062E" stroke-width="0.9"/>
<line x1="221.85" y1="344.3" x2="228.35" y2="344.3" stroke="#B8062E" stroke-width="0.9"/>
<circle cx="225.1" cy="337" r="1.3" fill="#B8062E"/>
<circle cx="223.6" cy="343.5" r="1.3" fill="#B8062E"/>
<circle cx="226.6" cy="343.1" r="1.3" fill="#B8062E"/>
<text x="225.1" y="334.54" font-size="6" text-anchor="middle" fill="#1a1a1a" stroke="#1a1a1a" stroke-width="0.1">*</text>
<line x1="225.1" y1="378.1" x2="225.1" y2="380.7" stroke="#1a1a1a" stroke-width="0.9"/>
<text x="227.7" y="388.1" font-size="6.6" text-anchor="end" fill="#262626" textLength="38.5" lengthAdjust="spacingAndGlyphs" transform="rotate(-45 227.7 388.1)" stroke="#262626" stroke-width="0.12">10 µM AYNE</text>
<rect x="239.2" y="372" width="13.8" height="6.1" fill="#D1897C"/>
<line x1="246.1" y1="370.6" x2="246.1" y2="373.5" stroke="#B8062E" stroke-width="0.9"/>
<line x1="242.85" y1="370.6" x2="249.35" y2="370.6" stroke="#B8062E" stroke-width="0.9"/>
<line x1="242.85" y1="373.5" x2="249.35" y2="373.5" stroke="#B8062E" stroke-width="0.9"/>
<circle cx="246.1" cy="370.6" r="1.3" fill="#B8062E"/>
<circle cx="244.6" cy="372.7" r="1.3" fill="#B8062E"/>
<circle cx="247.6" cy="373.1" r="1.3" fill="#B8062E"/>
<text x="246.1" y="370.64" font-size="6" text-anchor="middle" fill="#1a1a1a" stroke="#1a1a1a" stroke-width="0.1">***</text>
<line x1="246.1" y1="378.1" x2="246.1" y2="380.7" stroke="#1a1a1a" stroke-width="0.9"/>
<text x="248.7" y="388.1" font-size="6.6" text-anchor="end" fill="#262626" textLength="38.5" lengthAdjust="spacingAndGlyphs" transform="rotate(-45 248.7 388.1)" stroke="#262626" stroke-width="0.12">50 µM AYNE</text>
<rect x="260.2" y="373.9" width="13.8" height="4.2" fill="#B5D2A0"/>
<line x1="267.1" y1="372.4" x2="267.1" y2="375.4" stroke="#57A83A" stroke-width="0.9"/>
<line x1="263.85" y1="372.4" x2="270.35" y2="372.4" stroke="#57A83A" stroke-width="0.9"/>
<line x1="263.85" y1="375.4" x2="270.35" y2="375.4" stroke="#57A83A" stroke-width="0.9"/>
<path d="M265.8 373.57L268.4 373.57L267.1 371.23Z" stroke="none" fill="#57A83A" stroke-width="1"/>
<path d="M264.3 375.77L266.9 375.77L265.6 373.43Z" stroke="none" fill="#57A83A" stroke-width="1"/>
<path d="M267.3 376.17L269.9 376.17L268.6 373.83Z" stroke="none" fill="#57A83A" stroke-width="1"/>
<text x="267.1" y="371.94" font-size="6" text-anchor="middle" fill="#1a1a1a" stroke="#1a1a1a" stroke-width="0.1">***</text>
<line x1="267.1" y1="378.1" x2="267.1" y2="380.7" stroke="#1a1a1a" stroke-width="0.9"/>
<text x="269.7" y="388.1" font-size="6.6" text-anchor="end" fill="#262626" textLength="14.5" lengthAdjust="spacingAndGlyphs" transform="rotate(-45 269.7 388.1)" stroke="#262626" stroke-width="0.12">ETO</text>
<rect x="281" y="323.1" width="13.8" height="55" fill="#B5D2A0"/>
<line x1="287.9" y1="316.25" x2="287.9" y2="330" stroke="#57A83A" stroke-width="0.9"/>
<line x1="284.65" y1="316.25" x2="291.15" y2="316.25" stroke="#57A83A" stroke-width="0.9"/>
<line x1="284.65" y1="330" x2="291.15" y2="330" stroke="#57A83A" stroke-width="0.9"/>
<path d="M286.6 317.42L289.2 317.42L287.9 315.08Z" stroke="none" fill="#57A83A" stroke-width="1"/>
<path d="M285.1 330.37L287.7 330.37L286.4 328.03Z" stroke="none" fill="#57A83A" stroke-width="1"/>
<path d="M288.1 329.97L290.7 329.97L289.4 327.63Z" stroke="none" fill="#57A83A" stroke-width="1"/>
<text x="287.9" y="313.6" font-size="5.4" text-anchor="middle" fill="#333" stroke="#333" stroke-width="0.05">n.s.</text>
<line x1="287.9" y1="378.1" x2="287.9" y2="380.7" stroke="#1a1a1a" stroke-width="0.9"/>
<text x="290.5" y="388.1" font-size="6.6" text-anchor="end" fill="#262626" textLength="18.5" lengthAdjust="spacingAndGlyphs" transform="rotate(-45 290.5 388.1)" stroke="#262626" stroke-width="0.12">Ara-C</text>
<text x="168.5" y="337" font-size="7.9" text-anchor="middle" fill="#262626" textLength="103" lengthAdjust="spacingAndGlyphs" transform="rotate(-90 168.5 337)" stroke="#262626" stroke-width="0.12">Disintegrations per minute (DPM)</text>
<text x="314.7" y="278.8" font-size="11.2" fill="#000" font-weight="bold">E</text>
<line x1="361.25" y1="309.8" x2="361.25" y2="378.88" stroke="#1a1a1a" stroke-width="1.35"/>
<line x1="358.65" y1="378.2" x2="361.25" y2="378.2" stroke="#1a1a1a" stroke-width="0.9"/>
<text x="355.8" y="380.5" font-size="6.4" text-anchor="end" fill="#262626" stroke="#262626" stroke-width="0.12">0</text>
<line x1="358.65" y1="361.65" x2="361.25" y2="361.65" stroke="#1a1a1a" stroke-width="0.9"/>
<text x="355.8" y="363.95" font-size="6.4" text-anchor="end" fill="#262626" stroke="#262626" stroke-width="0.12">5</text>
<line x1="358.65" y1="345.1" x2="361.25" y2="345.1" stroke="#1a1a1a" stroke-width="0.9"/>
<text x="355.8" y="347.4" font-size="6.4" text-anchor="end" fill="#262626" stroke="#262626" stroke-width="0.12">10</text>
<line x1="358.65" y1="328.55" x2="361.25" y2="328.55" stroke="#1a1a1a" stroke-width="0.9"/>
<text x="355.8" y="330.85" font-size="6.4" text-anchor="end" fill="#262626" stroke="#262626" stroke-width="0.12">15</text>
<line x1="358.65" y1="312" x2="361.25" y2="312" stroke="#1a1a1a" stroke-width="0.9"/>
<text x="355.8" y="314.3" font-size="6.4" text-anchor="end" fill="#262626" stroke="#262626" stroke-width="0.12">20</text>
<line x1="358.65" y1="378.2" x2="405.6" y2="378.2" stroke="#1a1a1a" stroke-width="1.35"/>
<text x="384" y="305.2" font-size="8.4" text-anchor="middle" fill="#1a1a1a" textLength="22.5" lengthAdjust="spacingAndGlyphs" stroke="#1a1a1a" stroke-width="0.12">AML2</text>
<rect x="365.5" y="335.6" width="8.6" height="42.6" fill="#8991BD"/>
<line x1="369.8" y1="329.75" x2="369.8" y2="340" stroke="#1E4590" stroke-width="0.9"/>
<line x1="367.2" y1="329.75" x2="372.4" y2="329.75" stroke="#1E4590" stroke-width="0.9"/>
<line x1="367.2" y1="340" x2="372.4" y2="340" stroke="#1E4590" stroke-width="0.9"/>
<path d="M368.5 330.92L371.1 330.92L369.8 328.58Z" stroke="none" fill="#1E4590" stroke-width="1"/>
<path d="M367 340.37L369.6 340.37L368.3 338.03Z" stroke="none" fill="#1E4590" stroke-width="1"/>
<path d="M370 339.97L372.6 339.97L371.3 337.63Z" stroke="none" fill="#1E4590" stroke-width="1"/>
<line x1="369.8" y1="378.2" x2="369.8" y2="380.8" stroke="#1a1a1a" stroke-width="0.9"/>
<text x="372" y="388.7" font-size="6.8" text-anchor="end" fill="#262626" textLength="19.5" lengthAdjust="spacingAndGlyphs" transform="rotate(-45 372 388.7)" stroke="#262626" stroke-width="0.12">Vehicle</text>
<rect x="378.95" y="346" width="8.6" height="32.2" fill="#D1897C"/>
<line x1="383.25" y1="341.25" x2="383.25" y2="351" stroke="#B8062E" stroke-width="0.9"/>
<line x1="380.65" y1="341.25" x2="385.85" y2="341.25" stroke="#B8062E" stroke-width="0.9"/>
<line x1="380.65" y1="351" x2="385.85" y2="351" stroke="#B8062E" stroke-width="0.9"/>
<circle cx="383.25" cy="341.25" r="1.3" fill="#B8062E"/>
<circle cx="381.75" cy="350.2" r="1.3" fill="#B8062E"/>
<circle cx="384.75" cy="349.8" r="1.3" fill="#B8062E"/>
<text x="383.25" y="340.44" font-size="6" text-anchor="middle" fill="#1a1a1a" stroke="#1a1a1a" stroke-width="0.1">*</text>
<line x1="383.25" y1="378.2" x2="383.25" y2="380.8" stroke="#1a1a1a" stroke-width="0.9"/>
<text x="385.6" y="388.7" font-size="6.8" text-anchor="end" fill="#262626" textLength="36" lengthAdjust="spacingAndGlyphs" transform="rotate(-45 385.6 388.7)" stroke="#262626" stroke-width="0.12">10 µM AYNE</text>
<rect x="392.3" y="355" width="8.6" height="23.2" fill="#D1897C"/>
<line x1="396.6" y1="351.9" x2="396.6" y2="358.75" stroke="#B8062E" stroke-width="0.9"/>
<line x1="394" y1="351.9" x2="399.2" y2="351.9" stroke="#B8062E" stroke-width="0.9"/>
<line x1="394" y1="358.75" x2="399.2" y2="358.75" stroke="#B8062E" stroke-width="0.9"/>
<circle cx="396.6" cy="351.9" r="1.3" fill="#B8062E"/>
<circle cx="395.1" cy="357.95" r="1.3" fill="#B8062E"/>
<circle cx="398.1" cy="357.55" r="1.3" fill="#B8062E"/>
<text x="396.6" y="351.04" font-size="6" text-anchor="middle" fill="#1a1a1a" stroke="#1a1a1a" stroke-width="0.1">**</text>
<line x1="396.6" y1="378.2" x2="396.6" y2="380.8" stroke="#1a1a1a" stroke-width="0.9"/>
<text x="398.8" y="388.7" font-size="6.8" text-anchor="end" fill="#262626" textLength="36" lengthAdjust="spacingAndGlyphs" transform="rotate(-45 398.8 388.7)" stroke="#262626" stroke-width="0.12">25 µM AYNE</text>
<text x="320.9" y="343.85" font-size="8.6" text-anchor="middle" fill="#262626" textLength="89" lengthAdjust="spacingAndGlyphs" transform="rotate(-90 320.9 343.85)" stroke="#262626" stroke-width="0.12">Specific activity with C16-CoA</text>
<text x="331.5" y="345" font-size="8.6" text-anchor="middle" fill="#262626" textLength="64" lengthAdjust="spacingAndGlyphs" transform="rotate(-90 331.5 345)" stroke="#262626" stroke-width="0.12">(nmoles ETF reduced/</text>
<text x="342.1" y="344.2" font-size="8.6" text-anchor="middle" fill="#262626" textLength="58.3" lengthAdjust="spacingAndGlyphs" transform="rotate(-90 342.1 344.2)" stroke="#262626" stroke-width="0.12">(min*mg protein))</text>
<line x1="468.6" y1="309.4" x2="468.6" y2="378.88" stroke="#1a1a1a" stroke-width="1.35"/>
<line x1="466" y1="378.2" x2="468.6" y2="378.2" stroke="#1a1a1a" stroke-width="0.9"/>
<text x="463.2" y="380.5" font-size="6.4" text-anchor="end" fill="#262626" stroke="#262626" stroke-width="0.12">10</text>
<line x1="466" y1="361.7" x2="468.6" y2="361.7" stroke="#1a1a1a" stroke-width="0.9"/>
<text x="463.2" y="364" font-size="6.4" text-anchor="end" fill="#262626" stroke="#262626" stroke-width="0.12">11</text>
<line x1="466" y1="345.2" x2="468.6" y2="345.2" stroke="#1a1a1a" stroke-width="0.9"/>
<text x="463.2" y="347.5" font-size="6.4" text-anchor="end" fill="#262626" stroke="#262626" stroke-width="0.12">12</text>
<line x1="466" y1="328.7" x2="468.6" y2="328.7" stroke="#1a1a1a" stroke-width="0.9"/>
<text x="463.2" y="331" font-size="6.4" text-anchor="end" fill="#262626" stroke="#262626" stroke-width="0.12">13</text>
<line x1="466" y1="312.2" x2="468.6" y2="312.2" stroke="#1a1a1a" stroke-width="0.9"/>
<text x="463.2" y="314.5" font-size="6.4" text-anchor="end" fill="#262626" stroke="#262626" stroke-width="0.12">14</text>
<line x1="466" y1="378.2" x2="512.3" y2="378.2" stroke="#1a1a1a" stroke-width="1.35"/>
<text x="490.6" y="304" font-size="8.4" text-anchor="middle" fill="#1a1a1a" textLength="22.5" lengthAdjust="spacingAndGlyphs" stroke="#1a1a1a" stroke-width="0.12">AML2</text>
<rect x="473.6" y="341.9" width="8.4" height="36.3" fill="#8991BD"/>
<line x1="477.8" y1="336.5" x2="477.8" y2="346.9" stroke="#1E4590" stroke-width="0.9"/>
<line x1="475.2" y1="336.5" x2="480.4" y2="336.5" stroke="#1E4590" stroke-width="0.9"/>
<line x1="475.2" y1="346.9" x2="480.4" y2="346.9" stroke="#1E4590" stroke-width="0.9"/>
<path d="M476.5 337.67L479.1 337.67L477.8 335.33Z" stroke="none" fill="#1E4590" stroke-width="1"/>
<path d="M475 347.27L477.6 347.27L476.3 344.93Z" stroke="none" fill="#1E4590" stroke-width="1"/>
<path d="M478 346.87L480.6 346.87L479.3 344.53Z" stroke="none" fill="#1E4590" stroke-width="1"/>
<line x1="477.8" y1="378.2" x2="477.8" y2="380.8" stroke="#1a1a1a" stroke-width="0.9"/>
<text x="478.8" y="389.3" font-size="6.8" text-anchor="end" fill="#262626" textLength="19.5" lengthAdjust="spacingAndGlyphs" transform="rotate(-45 478.8 389.3)" stroke="#262626" stroke-width="0.12">Vehicle</text>
<rect x="486.3" y="349" width="8.4" height="29.2" fill="#D1897C"/>
<line x1="490.5" y1="345.6" x2="490.5" y2="353.75" stroke="#B8062E" stroke-width="0.9"/>
<line x1="487.9" y1="345.6" x2="493.1" y2="345.6" stroke="#B8062E" stroke-width="0.9"/>
<line x1="487.9" y1="353.75" x2="493.1" y2="353.75" stroke="#B8062E" stroke-width="0.9"/>
<circle cx="490.5" cy="345.6" r="1.3" fill="#B8062E"/>
<circle cx="489" cy="352.95" r="1.3" fill="#B8062E"/>
<circle cx="492" cy="352.55" r="1.3" fill="#B8062E"/>
<text x="490.5" y="342.6" font-size="5.4" text-anchor="middle" fill="#333" stroke="#333" stroke-width="0.05">n.s.</text>
<line x1="490.5" y1="378.2" x2="490.5" y2="380.8" stroke="#1a1a1a" stroke-width="0.9"/>
<text x="492.4" y="389.3" font-size="6.8" text-anchor="end" fill="#262626" textLength="36" lengthAdjust="spacingAndGlyphs" transform="rotate(-45 492.4 389.3)" stroke="#262626" stroke-width="0.12">10 µM AYNE</text>
<rect x="499.5" y="332.25" width="8.4" height="45.95" fill="#D1897C"/>
<line x1="503.7" y1="327.25" x2="503.7" y2="336.9" stroke="#B8062E" stroke-width="0.9"/>
<line x1="501.1" y1="327.25" x2="506.3" y2="327.25" stroke="#B8062E" stroke-width="0.9"/>
<line x1="501.1" y1="336.9" x2="506.3" y2="336.9" stroke="#B8062E" stroke-width="0.9"/>
<circle cx="503.7" cy="327.25" r="1.3" fill="#B8062E"/>
<circle cx="502.2" cy="336.1" r="1.3" fill="#B8062E"/>
<circle cx="505.2" cy="335.7" r="1.3" fill="#B8062E"/>
<text x="503.7" y="322.8" font-size="5.4" text-anchor="middle" fill="#333" stroke="#333" stroke-width="0.05">n.s.</text>
<line x1="503.7" y1="378.2" x2="503.7" y2="380.8" stroke="#1a1a1a" stroke-width="0.9"/>
<text x="506" y="389.3" font-size="6.8" text-anchor="end" fill="#262626" textLength="36" lengthAdjust="spacingAndGlyphs" transform="rotate(-45 506 389.3)" stroke="#262626" stroke-width="0.12">25 µM AYNE</text>
<text x="428.9" y="343.1" font-size="8.6" text-anchor="middle" fill="#262626" textLength="84.6" lengthAdjust="spacingAndGlyphs" transform="rotate(-90 428.9 343.1)" stroke="#262626" stroke-width="0.12">Specific activity with C8-CoA</text>
<text x="439.2" y="344.15" font-size="8.6" text-anchor="middle" fill="#262626" textLength="65.3" lengthAdjust="spacingAndGlyphs" transform="rotate(-90 439.2 344.15)" stroke="#262626" stroke-width="0.12">(nmoles ETF reduced/</text>
<text x="449.1" y="343.85" font-size="8.6" text-anchor="middle" fill="#262626" textLength="60.3" lengthAdjust="spacingAndGlyphs" transform="rotate(-90 449.1 343.85)" stroke="#262626" stroke-width="0.12">(min*mg protein))</text>
<text x="7.7" y="435.6" font-size="11.2" fill="#000" font-weight="bold">F</text>
<line x1="54.4" y1="465" x2="54.4" y2="533.17" stroke="#1a1a1a" stroke-width="1.35"/>
<line x1="51.8" y1="532.5" x2="54.4" y2="532.5" stroke="#1a1a1a" stroke-width="0.9"/>
<text x="48.3" y="534.8" font-size="6.4" text-anchor="end" fill="#262626" stroke="#262626" stroke-width="0.12">0</text>
<line x1="51.8" y1="519.55" x2="54.4" y2="519.55" stroke="#1a1a1a" stroke-width="0.9"/>
<text x="48.3" y="521.85" font-size="6.4" text-anchor="end" fill="#262626" stroke="#262626" stroke-width="0.12">5</text>
<line x1="51.8" y1="506.6" x2="54.4" y2="506.6" stroke="#1a1a1a" stroke-width="0.9"/>
<text x="48.3" y="508.9" font-size="6.4" text-anchor="end" fill="#262626" stroke="#262626" stroke-width="0.12">10</text>
<line x1="51.8" y1="493.65" x2="54.4" y2="493.65" stroke="#1a1a1a" stroke-width="0.9"/>
<text x="48.3" y="495.95" font-size="6.4" text-anchor="end" fill="#262626" stroke="#262626" stroke-width="0.12">15</text>
<line x1="51.8" y1="480.7" x2="54.4" y2="480.7" stroke="#1a1a1a" stroke-width="0.9"/>
<text x="48.3" y="483" font-size="6.4" text-anchor="end" fill="#262626" stroke="#262626" stroke-width="0.12">20</text>
<line x1="51.8" y1="467.75" x2="54.4" y2="467.75" stroke="#1a1a1a" stroke-width="0.9"/>
<text x="48.3" y="470.05" font-size="6.4" text-anchor="end" fill="#262626" stroke="#262626" stroke-width="0.12">25</text>
<line x1="51.8" y1="532.5" x2="98.1" y2="532.5" stroke="#1a1a1a" stroke-width="1.35"/>
<text x="76" y="459.8" font-size="8.4" text-anchor="middle" fill="#1a1a1a" textLength="22.5" lengthAdjust="spacingAndGlyphs" stroke="#1a1a1a" stroke-width="0.12">AML2</text>
<rect x="58.65" y="488.1" width="8.3" height="44.4" fill="#8991BD"/>
<line x1="62.8" y1="481" x2="62.8" y2="494" stroke="#1E4590" stroke-width="0.9"/>
<line x1="60.2" y1="481" x2="65.4" y2="481" stroke="#1E4590" stroke-width="0.9"/>
<line x1="60.2" y1="494" x2="65.4" y2="494" stroke="#1E4590" stroke-width="0.9"/>
<path d="M61.5 482.17L64.1 482.17L62.8 479.83Z" stroke="none" fill="#1E4590" stroke-width="1"/>
<path d="M60 494.37L62.6 494.37L61.3 492.03Z" stroke="none" fill="#1E4590" stroke-width="1"/>
<path d="M63 493.97L65.6 493.97L64.3 491.63Z" stroke="none" fill="#1E4590" stroke-width="1"/>
<line x1="62.8" y1="532.5" x2="62.8" y2="535.1" stroke="#1a1a1a" stroke-width="0.9"/>
<text x="65.2" y="543.7" font-size="6.8" text-anchor="end" fill="#262626" textLength="19.5" lengthAdjust="spacingAndGlyphs" transform="rotate(-45 65.2 543.7)" stroke="#262626" stroke-width="0.12">Vehicle</text>
<rect x="71.85" y="501.5" width="8.3" height="31" fill="#D1897C"/>
<line x1="76" y1="497.5" x2="76" y2="505" stroke="#B8062E" stroke-width="0.9"/>
<line x1="73.4" y1="497.5" x2="78.6" y2="497.5" stroke="#B8062E" stroke-width="0.9"/>
<line x1="73.4" y1="505" x2="78.6" y2="505" stroke="#B8062E" stroke-width="0.9"/>
<circle cx="76" cy="497.5" r="1.3" fill="#B8062E"/>
<circle cx="74.5" cy="504.2" r="1.3" fill="#B8062E"/>
<circle cx="77.5" cy="503.8" r="1.3" fill="#B8062E"/>
<text x="76" y="496.64" font-size="6" text-anchor="middle" fill="#1a1a1a" stroke="#1a1a1a" stroke-width="0.1">*</text>
<line x1="76" y1="532.5" x2="76" y2="535.1" stroke="#1a1a1a" stroke-width="0.9"/>
<text x="77.9" y="543.7" font-size="6.8" text-anchor="end" fill="#262626" textLength="36" lengthAdjust="spacingAndGlyphs" transform="rotate(-45 77.9 543.7)" stroke="#262626" stroke-width="0.12">10 µM AYNE</text>
<rect x="84.75" y="508.75" width="8.3" height="23.75" fill="#D1897C"/>
<line x1="88.9" y1="503.75" x2="88.9" y2="513" stroke="#B8062E" stroke-width="0.9"/>
<line x1="86.3" y1="503.75" x2="91.5" y2="503.75" stroke="#B8062E" stroke-width="0.9"/>
<line x1="86.3" y1="513" x2="91.5" y2="513" stroke="#B8062E" stroke-width="0.9"/>
<circle cx="88.9" cy="503.75" r="1.3" fill="#B8062E"/>
<circle cx="87.4" cy="512.2" r="1.3" fill="#B8062E"/>
<circle cx="90.4" cy="511.8" r="1.3" fill="#B8062E"/>
<text x="88.9" y="503.44" font-size="6" text-anchor="middle" fill="#1a1a1a" stroke="#1a1a1a" stroke-width="0.1">**</text>
<line x1="88.9" y1="532.5" x2="88.9" y2="535.1" stroke="#1a1a1a" stroke-width="0.9"/>
<text x="91.3" y="543.7" font-size="6.8" text-anchor="end" fill="#262626" textLength="36" lengthAdjust="spacingAndGlyphs" transform="rotate(-45 91.3 543.7)" stroke="#262626" stroke-width="0.12">25 µM AYNE</text>
<text x="14.6" y="498.45" font-size="8.6" text-anchor="middle" fill="#262626" textLength="56.9" lengthAdjust="spacingAndGlyphs" transform="rotate(-90 14.6 498.45)" stroke="#262626" stroke-width="0.12">C16-supported ETF</text>
<text x="25.4" y="498.4" font-size="8.6" text-anchor="middle" fill="#262626" textLength="35.6" lengthAdjust="spacingAndGlyphs" transform="rotate(-90 25.4 498.4)" stroke="#262626" stroke-width="0.12">oxygen flux</text>
<text x="36" y="498.75" font-size="8.6" text-anchor="middle" fill="#262626" textLength="46.3" lengthAdjust="spacingAndGlyphs" transform="rotate(-90 36 498.75)" stroke="#262626" stroke-width="0.12">(pmol)/(s * mL)</text>
<line x1="160.6" y1="463.5" x2="160.6" y2="533.17" stroke="#1a1a1a" stroke-width="1.35"/>
<line x1="158" y1="532.5" x2="160.6" y2="532.5" stroke="#1a1a1a" stroke-width="0.9"/>
<text x="155.2" y="534.8" font-size="6.4" text-anchor="end" fill="#262626" stroke="#262626" stroke-width="0.12">0</text>
<line x1="158" y1="519.35" x2="160.6" y2="519.35" stroke="#1a1a1a" stroke-width="0.9"/>
<text x="155.2" y="521.65" font-size="6.4" text-anchor="end" fill="#262626" stroke="#262626" stroke-width="0.12">2</text>
<line x1="158" y1="506.2" x2="160.6" y2="506.2" stroke="#1a1a1a" stroke-width="0.9"/>
<text x="155.2" y="508.5" font-size="6.4" text-anchor="end" fill="#262626" stroke="#262626" stroke-width="0.12">4</text>
<line x1="158" y1="493.05" x2="160.6" y2="493.05" stroke="#1a1a1a" stroke-width="0.9"/>
<text x="155.2" y="495.35" font-size="6.4" text-anchor="end" fill="#262626" stroke="#262626" stroke-width="0.12">6</text>
<line x1="158" y1="479.9" x2="160.6" y2="479.9" stroke="#1a1a1a" stroke-width="0.9"/>
<text x="155.2" y="482.2" font-size="6.4" text-anchor="end" fill="#262626" stroke="#262626" stroke-width="0.12">8</text>
<line x1="158" y1="466.75" x2="160.6" y2="466.75" stroke="#1a1a1a" stroke-width="0.9"/>
<text x="155.2" y="469.05" font-size="6.4" text-anchor="end" fill="#262626" stroke="#262626" stroke-width="0.12">10</text>
<line x1="158" y1="532.5" x2="204.6" y2="532.5" stroke="#1a1a1a" stroke-width="1.35"/>
<text x="182.6" y="458.8" font-size="8.4" text-anchor="middle" fill="#1a1a1a" textLength="22.5" lengthAdjust="spacingAndGlyphs" stroke="#1a1a1a" stroke-width="0.12">AML2</text>
<rect x="165.2" y="483.75" width="8.6" height="48.75" fill="#8991BD"/>
<line x1="169.5" y1="473.5" x2="169.5" y2="494.75" stroke="#1E4590" stroke-width="0.9"/>
<line x1="166.9" y1="473.5" x2="172.1" y2="473.5" stroke="#1E4590" stroke-width="0.9"/>
<line x1="166.9" y1="494.75" x2="172.1" y2="494.75" stroke="#1E4590" stroke-width="0.9"/>
<path d="M168.2 474.67L170.8 474.67L169.5 472.33Z" stroke="none" fill="#1E4590" stroke-width="1"/>
<path d="M166.7 495.12L169.3 495.12L168 492.78Z" stroke="none" fill="#1E4590" stroke-width="1"/>
<path d="M169.7 494.72L172.3 494.72L171 492.38Z" stroke="none" fill="#1E4590" stroke-width="1"/>
<line x1="169.5" y1="532.5" x2="169.5" y2="535.1" stroke="#1a1a1a" stroke-width="0.9"/>
<text x="171.7" y="543.7" font-size="6.8" text-anchor="end" fill="#262626" textLength="19.5" lengthAdjust="spacingAndGlyphs" transform="rotate(-45 171.7 543.7)" stroke="#262626" stroke-width="0.12">Vehicle</text>
<rect x="178.2" y="485" width="8.6" height="47.5" fill="#D1897C"/>
<line x1="182.5" y1="477.75" x2="182.5" y2="490" stroke="#B8062E" stroke-width="0.9"/>
<line x1="179.9" y1="477.75" x2="185.1" y2="477.75" stroke="#B8062E" stroke-width="0.9"/>
<line x1="179.9" y1="490" x2="185.1" y2="490" stroke="#B8062E" stroke-width="0.9"/>
<circle cx="182.5" cy="477.75" r="1.3" fill="#B8062E"/>
<circle cx="181" cy="489.2" r="1.3" fill="#B8062E"/>
<circle cx="184" cy="488.8" r="1.3" fill="#B8062E"/>
<text x="182.5" y="474.8" font-size="5.4" text-anchor="middle" fill="#333" stroke="#333" stroke-width="0.05">n.s.</text>
<line x1="182.5" y1="532.5" x2="182.5" y2="535.1" stroke="#1a1a1a" stroke-width="0.9"/>
<text x="184.4" y="543.7" font-size="6.8" text-anchor="end" fill="#262626" textLength="36" lengthAdjust="spacingAndGlyphs" transform="rotate(-45 184.4 543.7)" stroke="#262626" stroke-width="0.12">10 µM AYNE</text>
<rect x="191.3" y="487.25" width="8.6" height="45.25" fill="#D1897C"/>
<line x1="195.6" y1="478.5" x2="195.6" y2="496.9" stroke="#B8062E" stroke-width="0.9"/>
<line x1="193" y1="478.5" x2="198.2" y2="478.5" stroke="#B8062E" stroke-width="0.9"/>
<line x1="193" y1="496.9" x2="198.2" y2="496.9" stroke="#B8062E" stroke-width="0.9"/>
<circle cx="195.6" cy="478.5" r="1.3" fill="#B8062E"/>
<circle cx="194.1" cy="496.1" r="1.3" fill="#B8062E"/>
<circle cx="197.1" cy="495.7" r="1.3" fill="#B8062E"/>
<text x="195.6" y="476.7" font-size="5.4" text-anchor="middle" fill="#333" stroke="#333" stroke-width="0.05">n.s.</text>
<line x1="195.6" y1="532.5" x2="195.6" y2="535.1" stroke="#1a1a1a" stroke-width="0.9"/>
<text x="197.9" y="543.7" font-size="6.8" text-anchor="end" fill="#262626" textLength="36" lengthAdjust="spacingAndGlyphs" transform="rotate(-45 197.9 543.7)" stroke="#262626" stroke-width="0.12">25 µM AYNE</text>
<text x="119.5" y="498.5" font-size="8.6" text-anchor="middle" fill="#262626" textLength="53" lengthAdjust="spacingAndGlyphs" transform="rotate(-90 119.5 498.5)" stroke="#262626" stroke-width="0.12">C8-supported ETF</text>
<text x="130" y="497.9" font-size="8.6" text-anchor="middle" fill="#262626" textLength="36.25" lengthAdjust="spacingAndGlyphs" transform="rotate(-90 130 497.9)" stroke="#262626" stroke-width="0.12">oxygen flux</text>
<text x="141.8" y="498.2" font-size="8.6" text-anchor="middle" fill="#262626" textLength="47.2" lengthAdjust="spacingAndGlyphs" transform="rotate(-90 141.8 498.2)" stroke="#262626" stroke-width="0.12">(pmol)/(s * mL)</text>
<text x="221" y="435.6" font-size="11.2" fill="#000" font-weight="bold">G</text>
<text x="370.25" y="446.1" font-size="8.6" text-anchor="middle" fill="#1a1a1a" textLength="109.5" lengthAdjust="spacingAndGlyphs" stroke="#1a1a1a" stroke-width="0.02">Non-transformed fibroblasts</text>
<line x1="252.25" y1="451.2" x2="252.25" y2="533.27" stroke="#1a1a1a" stroke-width="1.35"/>
<line x1="249.65" y1="532.6" x2="252.25" y2="532.6" stroke="#1a1a1a" stroke-width="0.9"/>
<text x="246.2" y="534.98" font-size="6.6" text-anchor="end" fill="#262626" stroke="#262626" stroke-width="0.12">0.00</text>
<line x1="249.65" y1="521.33" x2="252.25" y2="521.33" stroke="#1a1a1a" stroke-width="0.9"/>
<text x="246.2" y="523.71" font-size="6.6" text-anchor="end" fill="#262626" stroke="#262626" stroke-width="0.12">0.25</text>
<line x1="249.65" y1="510.06" x2="252.25" y2="510.06" stroke="#1a1a1a" stroke-width="0.9"/>
<text x="246.2" y="512.44" font-size="6.6" text-anchor="end" fill="#262626" stroke="#262626" stroke-width="0.12">0.50</text>
<line x1="249.65" y1="498.79" x2="252.25" y2="498.79" stroke="#1a1a1a" stroke-width="0.9"/>
<text x="246.2" y="501.17" font-size="6.6" text-anchor="end" fill="#262626" stroke="#262626" stroke-width="0.12">0.75</text>
<line x1="249.65" y1="487.52" x2="252.25" y2="487.52" stroke="#1a1a1a" stroke-width="0.9"/>
<text x="246.2" y="489.9" font-size="6.6" text-anchor="end" fill="#262626" stroke="#262626" stroke-width="0.12">1.00</text>
<line x1="249.65" y1="476.25" x2="252.25" y2="476.25" stroke="#1a1a1a" stroke-width="0.9"/>
<text x="246.2" y="478.63" font-size="6.6" text-anchor="end" fill="#262626" stroke="#262626" stroke-width="0.12">1.25</text>
<line x1="249.65" y1="464.98" x2="252.25" y2="464.98" stroke="#1a1a1a" stroke-width="0.9"/>
<text x="246.2" y="467.36" font-size="6.6" text-anchor="end" fill="#262626" stroke="#262626" stroke-width="0.12">1.50</text>
<line x1="249.65" y1="453.71" x2="252.25" y2="453.71" stroke="#1a1a1a" stroke-width="0.9"/>
<text x="246.2" y="456.09" font-size="6.6" text-anchor="end" fill="#262626" stroke="#262626" stroke-width="0.12">1.75</text>
<line x1="249.6" y1="532.6" x2="488.8" y2="532.6" stroke="#1a1a1a" stroke-width="1.35"/>
<text x="227.8" y="491.9" font-size="8.6" text-anchor="middle" fill="#262626" textLength="16.3" lengthAdjust="spacingAndGlyphs" transform="rotate(-90 227.8 491.9)" stroke="#262626" stroke-width="0.05">[µM]</text>
<line x1="260.75" y1="521.5" x2="260.75" y2="523.1" stroke="#8670A2" stroke-width="1.15"/>
<line x1="258.65" y1="521.5" x2="262.85" y2="521.5" stroke="#8670A2" stroke-width="1.15"/>
<rect x="257.45" y="523.1" width="6.6" height="9.5" fill="#4D246F"/>
<line x1="270.85" y1="497.25" x2="270.85" y2="508.1" stroke="#D0687E" stroke-width="1.15"/>
<line x1="268.75" y1="497.25" x2="272.95" y2="497.25" stroke="#D0687E" stroke-width="1.15"/>
<rect x="267.55" y="508.1" width="6.6" height="24.5" fill="#A6062F"/>
<text x="270.85" y="497.82" font-size="5.8" text-anchor="middle" fill="#1a1a1a" stroke="#1a1a1a" stroke-width="0.12">*</text>
<line x1="280.95" y1="492.25" x2="280.95" y2="499" stroke="#D0687E" stroke-width="1.15"/>
<line x1="278.85" y1="492.25" x2="283.05" y2="492.25" stroke="#D0687E" stroke-width="1.15"/>
<rect x="277.65" y="499" width="6.6" height="33.6" fill="#A6062F"/>
<text x="280.95" y="491.17" font-size="5.8" text-anchor="middle" fill="#1a1a1a" stroke="#1a1a1a" stroke-width="0.12">***</text>
<line x1="291.05" y1="454.4" x2="291.05" y2="466.25" stroke="#8A909E" stroke-width="1.15"/>
<line x1="288.95" y1="454.4" x2="293.15" y2="454.4" stroke="#8A909E" stroke-width="1.15"/>
<rect x="287.75" y="466.25" width="6.6" height="66.35" fill="#4D5569"/>
<text x="291.05" y="454.02" font-size="5.8" text-anchor="middle" fill="#1a1a1a" stroke="#1a1a1a" stroke-width="0.12">***</text>
<line x1="276.7" y1="532.6" x2="276.7" y2="535.2" stroke="#1a1a1a" stroke-width="0.9"/>
<text x="276.7" y="544.4" font-size="7.2" text-anchor="middle" fill="#1a1a1a" stroke="#1a1a1a" stroke-width="0.02">C16</text>
<line x1="307.95" y1="498.5" x2="307.95" y2="508.1" stroke="#8670A2" stroke-width="1.15"/>
<line x1="305.85" y1="498.5" x2="310.05" y2="498.5" stroke="#8670A2" stroke-width="1.15"/>
<rect x="304.65" y="508.1" width="6.6" height="24.5" fill="#4D246F"/>
<line x1="318.05" y1="512.25" x2="318.05" y2="518.5" stroke="#D0687E" stroke-width="1.15"/>
<line x1="315.95" y1="512.25" x2="320.15" y2="512.25" stroke="#D0687E" stroke-width="1.15"/>
<rect x="314.75" y="518.5" width="6.6" height="14.1" fill="#A6062F"/>
<text x="318.05" y="512.17" font-size="5.8" text-anchor="middle" fill="#1a1a1a" stroke="#1a1a1a" stroke-width="0.12">*</text>
<line x1="328.15" y1="529.75" x2="328.15" y2="531" stroke="#D0687E" stroke-width="1.15"/>
<line x1="326.05" y1="529.75" x2="330.25" y2="529.75" stroke="#D0687E" stroke-width="1.15"/>
<rect x="324.85" y="531" width="6.6" height="1.6" fill="#A6062F"/>
<text x="328.15" y="528.67" font-size="5.8" text-anchor="middle" fill="#1a1a1a" stroke="#1a1a1a" stroke-width="0.12">***</text>
<line x1="338.25" y1="531" x2="338.25" y2="532" stroke="#8A909E" stroke-width="1.15"/>
<line x1="336.15" y1="531" x2="340.35" y2="531" stroke="#8A909E" stroke-width="1.15"/>
<rect x="334.95" y="531.8" width="6.6" height="0.8" fill="#4D5569"/>
<text x="338.25" y="528.67" font-size="5.8" text-anchor="middle" fill="#1a1a1a" stroke="#1a1a1a" stroke-width="0.12">***</text>
<line x1="323.9" y1="532.6" x2="323.9" y2="535.2" stroke="#1a1a1a" stroke-width="0.9"/>
<text x="323.9" y="544.4" font-size="7.2" text-anchor="middle" fill="#1a1a1a" stroke="#1a1a1a" stroke-width="0.02">C10</text>
<line x1="355.15" y1="499.4" x2="355.15" y2="509.75" stroke="#8670A2" stroke-width="1.15"/>
<line x1="353.05" y1="499.4" x2="357.25" y2="499.4" stroke="#8670A2" stroke-width="1.15"/>
<rect x="351.85" y="509.75" width="6.6" height="22.85" fill="#4D246F"/>
<line x1="365.25" y1="515" x2="365.25" y2="521.25" stroke="#D0687E" stroke-width="1.15"/>
<line x1="363.15" y1="515" x2="367.35" y2="515" stroke="#D0687E" stroke-width="1.15"/>
<rect x="361.95" y="521.25" width="6.6" height="11.35" fill="#A6062F"/>
<text x="365.25" y="514.02" font-size="5.8" text-anchor="middle" fill="#1a1a1a" stroke="#1a1a1a" stroke-width="0.12">*</text>
<line x1="375.35" y1="523.5" x2="375.35" y2="528.1" stroke="#D0687E" stroke-width="1.15"/>
<line x1="373.25" y1="523.5" x2="377.45" y2="523.5" stroke="#D0687E" stroke-width="1.15"/>
<rect x="372.05" y="528.1" width="6.6" height="4.5" fill="#A6062F"/>
<text x="375.35" y="523.67" font-size="5.8" text-anchor="middle" fill="#1a1a1a" stroke="#1a1a1a" stroke-width="0.12">**</text>
<line x1="385.45" y1="530.6" x2="385.45" y2="531.5" stroke="#8A909E" stroke-width="1.15"/>
<line x1="383.35" y1="530.6" x2="387.55" y2="530.6" stroke="#8A909E" stroke-width="1.15"/>
<rect x="382.15" y="531.5" width="6.6" height="1.1" fill="#4D5569"/>
<text x="385.45" y="532.17" font-size="5.8" text-anchor="middle" fill="#1a1a1a" stroke="#1a1a1a" stroke-width="0.12">***</text>
<line x1="371.1" y1="532.6" x2="371.1" y2="535.2" stroke="#1a1a1a" stroke-width="0.9"/>
<text x="371.1" y="544.4" font-size="7.2" text-anchor="middle" fill="#1a1a1a" stroke="#1a1a1a" stroke-width="0.02">C8</text>
<line x1="402.35" y1="514.4" x2="402.35" y2="520" stroke="#8670A2" stroke-width="1.15"/>
<line x1="400.25" y1="514.4" x2="404.45" y2="514.4" stroke="#8670A2" stroke-width="1.15"/>
<rect x="399.05" y="520" width="6.6" height="12.6" fill="#4D246F"/>
<line x1="412.45" y1="524" x2="412.45" y2="525" stroke="#D0687E" stroke-width="1.15"/>
<line x1="410.35" y1="524" x2="414.55" y2="524" stroke="#D0687E" stroke-width="1.15"/>
<rect x="409.15" y="525" width="6.6" height="7.6" fill="#A6062F"/>
<text x="412.45" y="523.67" font-size="5.8" text-anchor="middle" fill="#1a1a1a" stroke="#1a1a1a" stroke-width="0.12">*</text>
<line x1="422.55" y1="526.5" x2="422.55" y2="529.4" stroke="#D0687E" stroke-width="1.15"/>
<line x1="420.45" y1="526.5" x2="424.65" y2="526.5" stroke="#D0687E" stroke-width="1.15"/>
<rect x="419.25" y="529.4" width="6.6" height="3.2" fill="#A6062F"/>
<text x="422.55" y="526.52" font-size="5.8" text-anchor="middle" fill="#1a1a1a" stroke="#1a1a1a" stroke-width="0.12">***</text>
<line x1="432.65" y1="531" x2="432.65" y2="531.8" stroke="#8A909E" stroke-width="1.15"/>
<line x1="430.55" y1="531" x2="434.75" y2="531" stroke="#8A909E" stroke-width="1.15"/>
<rect x="429.35" y="531.8" width="6.6" height="0.8" fill="#4D5569"/>
<text x="432.65" y="530.92" font-size="5.8" text-anchor="middle" fill="#1a1a1a" stroke="#1a1a1a" stroke-width="0.12">***</text>
<line x1="418.3" y1="532.6" x2="418.3" y2="535.2" stroke="#1a1a1a" stroke-width="0.9"/>
<text x="418.3" y="544.4" font-size="7.2" text-anchor="middle" fill="#1a1a1a" stroke="#1a1a1a" stroke-width="0.02">C6</text>
<line x1="449.55" y1="502.5" x2="449.55" y2="508.5" stroke="#8670A2" stroke-width="1.15"/>
<line x1="447.45" y1="502.5" x2="451.65" y2="502.5" stroke="#8670A2" stroke-width="1.15"/>
<rect x="446.25" y="508.5" width="6.6" height="24.1" fill="#4D246F"/>
<line x1="459.65" y1="514.4" x2="459.65" y2="518.5" stroke="#D0687E" stroke-width="1.15"/>
<line x1="457.55" y1="514.4" x2="461.75" y2="514.4" stroke="#D0687E" stroke-width="1.15"/>
<rect x="456.35" y="518.5" width="6.6" height="14.1" fill="#A6062F"/>
<text x="459.65" y="514.02" font-size="5.8" text-anchor="middle" fill="#1a1a1a" stroke="#1a1a1a" stroke-width="0.12">**</text>
<line x1="469.75" y1="519.4" x2="469.75" y2="523.1" stroke="#D0687E" stroke-width="1.15"/>
<line x1="467.65" y1="519.4" x2="471.85" y2="519.4" stroke="#D0687E" stroke-width="1.15"/>
<rect x="466.45" y="523.1" width="6.6" height="9.5" fill="#A6062F"/>
<text x="469.75" y="519.42" font-size="5.8" text-anchor="middle" fill="#1a1a1a" stroke="#1a1a1a" stroke-width="0.12">***</text>
<line x1="479.85" y1="531" x2="479.85" y2="531.8" stroke="#8A909E" stroke-width="1.15"/>
<line x1="477.75" y1="531" x2="481.95" y2="531" stroke="#8A909E" stroke-width="1.15"/>
<rect x="476.55" y="531.8" width="6.6" height="0.8" fill="#4D5569"/>
<text x="479.85" y="530.32" font-size="5.8" text-anchor="middle" fill="#1a1a1a" stroke="#1a1a1a" stroke-width="0.12">***</text>
<line x1="465.5" y1="532.6" x2="465.5" y2="535.2" stroke="#1a1a1a" stroke-width="0.9"/>
<text x="465.5" y="544.4" font-size="7.2" text-anchor="middle" fill="#1a1a1a" stroke="#1a1a1a" stroke-width="0.02">C4</text>
<text x="370.5" y="556" font-size="7.4" text-anchor="middle" fill="#1a1a1a" textLength="41.4" lengthAdjust="spacingAndGlyphs" stroke="#1a1a1a" stroke-width="0.12">Acyl-carnitine</text>
<rect x="424.2" y="458.65" width="7" height="4.2" fill="#4D246F"/>
<text x="434.4" y="462.85" font-size="6" fill="#333" textLength="62.6" lengthAdjust="spacingAndGlyphs" stroke="#333" stroke-width="0.12">Wild type, solvent vehicle</text>
<rect x="424.2" y="468" width="7" height="4.2" fill="#A6062F"/>
<text x="434.4" y="472.2" font-size="6" fill="#333" textLength="58.3" lengthAdjust="spacingAndGlyphs" stroke="#333" stroke-width="0.12">Wild type, 25 µM AYNE</text>
<rect x="424.2" y="476.9" width="7" height="4.2" fill="#A6062F"/>
<text x="434.4" y="481.1" font-size="6" fill="#333" textLength="58.3" lengthAdjust="spacingAndGlyphs" stroke="#333" stroke-width="0.12">Wild type, 50 µM AYNE</text>
<rect x="424.2" y="485.5" width="7" height="4.2" fill="#4D5569"/>
<text x="434.4" y="489.7" font-size="6" fill="#333" textLength="58.3" lengthAdjust="spacingAndGlyphs" stroke="#333" stroke-width="0.12">VLCAD⁻, solvent vehicle</text>
<text x="8.1" y="589.8" font-size="11.2" fill="#000" font-weight="bold">H</text>
<text x="88.3" y="587.2" font-size="8.4" text-anchor="middle" fill="#1a1a1a" textLength="15.5" lengthAdjust="spacingAndGlyphs" stroke="#1a1a1a" stroke-width="0.12">TEX</text>
<line x1="36.9" y1="592.7" x2="36.9" y2="662.17" stroke="#1a1a1a" stroke-width="1.35"/>
<line x1="34.3" y1="661.5" x2="36.9" y2="661.5" stroke="#1a1a1a" stroke-width="0.9"/>
<text x="30.8" y="663.88" font-size="6.6" text-anchor="end" fill="#262626" stroke="#262626" stroke-width="0.12">0</text>
<line x1="34.3" y1="648.14" x2="36.9" y2="648.14" stroke="#1a1a1a" stroke-width="0.9"/>
<text x="30.8" y="650.52" font-size="6.6" text-anchor="end" fill="#262626" stroke="#262626" stroke-width="0.12">25</text>
<line x1="34.3" y1="634.78" x2="36.9" y2="634.78" stroke="#1a1a1a" stroke-width="0.9"/>
<text x="30.8" y="637.16" font-size="6.6" text-anchor="end" fill="#262626" stroke="#262626" stroke-width="0.12">50</text>
<line x1="34.3" y1="621.42" x2="36.9" y2="621.42" stroke="#1a1a1a" stroke-width="0.9"/>
<text x="30.8" y="623.8" font-size="6.6" text-anchor="end" fill="#262626" stroke="#262626" stroke-width="0.12">75</text>
<line x1="34.3" y1="608.06" x2="36.9" y2="608.06" stroke="#1a1a1a" stroke-width="0.9"/>
<text x="30.8" y="610.44" font-size="6.6" text-anchor="end" fill="#262626" stroke="#262626" stroke-width="0.12">100</text>
<line x1="34.3" y1="594.7" x2="36.9" y2="594.7" stroke="#1a1a1a" stroke-width="0.9"/>
<text x="30.8" y="597.08" font-size="6.6" text-anchor="end" fill="#262626" stroke="#262626" stroke-width="0.12">125</text>
<line x1="34.3" y1="661.5" x2="139.5" y2="661.5" stroke="#1a1a1a" stroke-width="1.35"/>
<line x1="64" y1="661.5" x2="64" y2="664.3" stroke="#1a1a1a" stroke-width="0.9"/>
<text x="64" y="673.2" font-size="6.6" text-anchor="middle" fill="#262626" stroke="#262626" stroke-width="0.12">1</text>
<line x1="100.3" y1="661.5" x2="100.3" y2="664.3" stroke="#1a1a1a" stroke-width="0.9"/>
<text x="100.3" y="673.2" font-size="6.6" text-anchor="middle" fill="#262626" stroke="#262626" stroke-width="0.12">10</text>
<line x1="136.6" y1="661.5" x2="136.6" y2="664.3" stroke="#1a1a1a" stroke-width="0.9"/>
<text x="136.6" y="673.2" font-size="6.6" text-anchor="middle" fill="#262626" stroke="#262626" stroke-width="0.12">100</text>
<text x="88.1" y="686" font-size="7.6" text-anchor="middle" fill="#1a1a1a" textLength="33.8" lengthAdjust="spacingAndGlyphs" stroke="#1a1a1a" stroke-width="0.12">AYNE (µM)</text>
<text x="14.6" y="626.8" font-size="9" text-anchor="middle" fill="#262626" textLength="31.3" lengthAdjust="spacingAndGlyphs" transform="rotate(-90 14.6 626.8)" stroke="#262626" stroke-width="0.12">% viability</text>
<path d="M41.90,608.98 L42.54,609.00 L43.19,609.01 L43.83,609.02 L44.48,609.04 L45.12,609.06 L45.76,609.08 L46.41,609.10 L47.05,609.12 L47.70,609.15 L48.34,609.18 L48.98,609.21 L49.63,609.25 L50.27,609.29 L50.92,609.33 L51.56,609.37 L52.20,609.43 L52.85,609.48 L53.49,609.54 L54.14,609.61 L54.78,609.69 L55.42,609.77 L56.07,609.86 L56.71,609.95 L57.36,610.06 L58.00,610.18 L58.64,610.31 L59.29,610.45 L59.93,610.61 L60.58,610.78 L61.22,610.96 L61.86,611.16 L62.51,611.38 L63.15,611.62 L63.80,611.89 L64.44,612.17 L65.08,612.48 L65.73,612.82 L66.37,613.19 L67.02,613.59 L67.66,614.02 L68.30,614.48 L68.95,614.98 L69.59,615.52 L70.24,616.10 L70.88,616.72 L71.52,617.39 L72.17,618.10 L72.81,618.86 L73.46,619.66 L74.10,620.51 L74.74,621.41 L75.39,622.35 L76.03,623.34 L76.68,624.38 L77.32,625.46 L77.96,626.57 L78.61,627.73 L79.25,628.91 L79.90,630.13 L80.54,631.37 L81.18,632.63 L81.83,633.90 L82.47,635.18 L83.12,636.46 L83.76,637.73 L84.40,639.00 L85.05,640.25 L85.69,641.48 L86.34,642.68 L86.98,643.86 L87.62,645.00 L88.27,646.10 L88.91,647.16 L89.56,648.17 L90.20,649.14 L90.84,650.07 L91.49,650.95 L92.13,651.78 L92.78,652.56 L93.42,653.30 L94.06,653.99 L94.71,654.64 L95.35,655.24 L96.00,655.80 L96.64,656.33 L97.28,656.81 L97.93,657.26 L98.57,657.68 L99.22,658.06 L99.86,658.42 L100.50,658.74 L101.15,659.04 L101.79,659.32 L102.44,659.57 L103.08,659.81 L103.72,660.02 L104.37,660.21 L105.01,660.39 L105.66,660.55 L106.30,660.70" stroke="#B20F30" fill="none" stroke-width="1.5" stroke-linecap="round"/>
<path d="M41.90,608.34 L42.54,608.35 L43.19,608.35 L43.83,608.35 L44.48,608.35 L45.12,608.35 L45.76,608.36 L46.41,608.36 L47.05,608.36 L47.70,608.37 L48.34,608.37 L48.98,608.38 L49.63,608.38 L50.27,608.39 L50.92,608.39 L51.56,608.40 L52.20,608.41 L52.85,608.41 L53.49,608.42 L54.14,608.43 L54.78,608.44 L55.42,608.46 L56.07,608.47 L56.71,608.48 L57.36,608.50 L58.00,608.52 L58.64,608.54 L59.29,608.56 L59.93,608.58 L60.58,608.61 L61.22,608.63 L61.86,608.67 L62.51,608.70 L63.15,608.74 L63.80,608.78 L64.44,608.82 L65.08,608.87 L65.73,608.93 L66.37,608.99 L67.02,609.06 L67.66,609.13 L68.30,609.21 L68.95,609.30 L69.59,609.40 L70.24,609.50 L70.88,609.62 L71.52,609.75 L72.17,609.89 L72.81,610.04 L73.46,610.21 L74.10,610.40 L74.74,610.60 L75.39,610.83 L76.03,611.07 L76.68,611.33 L77.32,611.62 L77.96,611.94 L78.61,612.28 L79.25,612.66 L79.90,613.07 L80.54,613.51 L81.18,613.99 L81.83,614.51 L82.47,615.07 L83.12,615.67 L83.76,616.33 L84.40,617.03 L85.05,617.78 L85.69,618.59 L86.34,619.45 L86.98,620.36 L87.62,621.33 L88.27,622.36 L88.91,623.45 L89.56,624.59 L90.20,625.79 L90.84,627.04 L91.49,628.35 L92.13,629.69 L92.78,631.09 L93.42,632.52 L94.06,633.98 L94.71,635.47 L95.35,636.99 L96.00,638.51 L96.64,640.05 L97.28,641.58 L97.93,643.11 L98.57,644.62 L99.22,646.11 L99.86,647.57 L100.50,649.00 L101.15,650.39 L101.79,651.74 L102.44,653.04 L103.08,654.29 L103.72,655.49 L104.37,656.63 L105.01,657.72 L105.66,658.75 L106.30,659.72" stroke="#1C4289" fill="none" stroke-width="1.5" stroke-linecap="round"/>
<circle cx="70.4" cy="622.6" r="1.7" fill="#B20F30"/>
<circle cx="81.2" cy="630.8" r="1.7" fill="#B20F30"/>
<circle cx="87.6" cy="643.8" r="1.7" fill="#B20F30"/>
<circle cx="92.2" cy="653" r="1.7" fill="#B20F30"/>
<circle cx="95.3" cy="657" r="1.7" fill="#B20F30"/>
<circle cx="98.4" cy="658.5" r="1.7" fill="#B20F30"/>
<circle cx="101.5" cy="660" r="1.7" fill="#B20F30"/>
<circle cx="106" cy="660.8" r="1.7" fill="#B20F30"/>
<rect x="40.25" y="607.1" width="3.3" height="3.3" fill="#1C4289"/>
<rect x="69.05" y="608.35" width="3.3" height="3.3" fill="#1C4289"/>
<rect x="79.15" y="613.75" width="3.3" height="3.3" fill="#1C4289"/>
<rect x="85.95" y="620.35" width="3.3" height="3.3" fill="#1C4289"/>
<rect x="90.55" y="628.65" width="3.3" height="3.3" fill="#1C4289"/>
<rect x="93.65" y="637.85" width="3.3" height="3.3" fill="#1C4289"/>
<rect x="96.75" y="642.55" width="3.3" height="3.3" fill="#1C4289"/>
<rect x="99.85" y="647.15" width="3.3" height="3.3" fill="#1C4289"/>
<rect x="102.85" y="654.15" width="3.3" height="3.3" fill="#1C4289"/>
<rect x="104.35" y="658.85" width="3.3" height="3.3" fill="#1C4289"/>
<line x1="81.5" y1="635.5" x2="93.5" y2="635.5" stroke="#111" stroke-width="0.9"/>
<line x1="81.5" y1="633.5" x2="81.5" y2="637.5" stroke="#111" stroke-width="0.9"/>
<line x1="93.5" y1="633.5" x2="93.5" y2="637.5" stroke="#111" stroke-width="0.9"/>
<text x="87.5" y="635.52" font-size="5.8" text-anchor="middle" fill="#1a1a1a" stroke="#1a1a1a" stroke-width="0.12">***</text>
<text x="158.1" y="589.8" font-size="11.2" fill="#000" font-weight="bold">I</text>
<text x="238" y="587.2" font-size="8.4" text-anchor="middle" fill="#1a1a1a" textLength="22" lengthAdjust="spacingAndGlyphs" stroke="#1a1a1a" stroke-width="0.12">AML2</text>
<line x1="186.9" y1="592.7" x2="186.9" y2="662.17" stroke="#1a1a1a" stroke-width="1.35"/>
<line x1="184.3" y1="661.5" x2="186.9" y2="661.5" stroke="#1a1a1a" stroke-width="0.9"/>
<text x="180.8" y="663.88" font-size="6.6" text-anchor="end" fill="#262626" stroke="#262626" stroke-width="0.12">0</text>
<line x1="184.3" y1="648.14" x2="186.9" y2="648.14" stroke="#1a1a1a" stroke-width="0.9"/>
<text x="180.8" y="650.52" font-size="6.6" text-anchor="end" fill="#262626" stroke="#262626" stroke-width="0.12">25</text>
<line x1="184.3" y1="634.78" x2="186.9" y2="634.78" stroke="#1a1a1a" stroke-width="0.9"/>
<text x="180.8" y="637.16" font-size="6.6" text-anchor="end" fill="#262626" stroke="#262626" stroke-width="0.12">50</text>
<line x1="184.3" y1="621.42" x2="186.9" y2="621.42" stroke="#1a1a1a" stroke-width="0.9"/>
<text x="180.8" y="623.8" font-size="6.6" text-anchor="end" fill="#262626" stroke="#262626" stroke-width="0.12">75</text>
<line x1="184.3" y1="608.06" x2="186.9" y2="608.06" stroke="#1a1a1a" stroke-width="0.9"/>
<text x="180.8" y="610.44" font-size="6.6" text-anchor="end" fill="#262626" stroke="#262626" stroke-width="0.12">100</text>
<line x1="184.3" y1="594.7" x2="186.9" y2="594.7" stroke="#1a1a1a" stroke-width="0.9"/>
<text x="180.8" y="597.08" font-size="6.6" text-anchor="end" fill="#262626" stroke="#262626" stroke-width="0.12">125</text>
<line x1="184.3" y1="661.5" x2="288.8" y2="661.5" stroke="#1a1a1a" stroke-width="1.35"/>
<line x1="186.8" y1="661.5" x2="186.8" y2="664.3" stroke="#1a1a1a" stroke-width="0.9"/>
<text x="186.8" y="673.2" font-size="6.6" text-anchor="middle" fill="#262626" stroke="#262626" stroke-width="0.12">1</text>
<line x1="236.3" y1="661.5" x2="236.3" y2="664.3" stroke="#1a1a1a" stroke-width="0.9"/>
<text x="236.3" y="673.2" font-size="6.6" text-anchor="middle" fill="#262626" stroke="#262626" stroke-width="0.12">10</text>
<line x1="285.8" y1="661.5" x2="285.8" y2="664.3" stroke="#1a1a1a" stroke-width="0.9"/>
<text x="285.8" y="673.2" font-size="6.6" text-anchor="middle" fill="#262626" stroke="#262626" stroke-width="0.12">100</text>
<text x="238.1" y="686" font-size="7.6" text-anchor="middle" fill="#1a1a1a" textLength="33.8" lengthAdjust="spacingAndGlyphs" stroke="#1a1a1a" stroke-width="0.12">AYNE (µM)</text>
<text x="164.6" y="626.8" font-size="9" text-anchor="middle" fill="#262626" textLength="31.3" lengthAdjust="spacingAndGlyphs" transform="rotate(-90 164.6 626.8)" stroke="#262626" stroke-width="0.12">% viability</text>
<path d="M186.80,609.03 L187.62,609.05 L188.45,609.07 L189.27,609.09 L190.10,609.11 L190.92,609.14 L191.74,609.17 L192.57,609.20 L193.39,609.23 L194.22,609.27 L195.04,609.31 L195.86,609.35 L196.69,609.40 L197.51,609.46 L198.34,609.52 L199.16,609.58 L199.98,609.65 L200.81,609.73 L201.63,609.82 L202.46,609.92 L203.28,610.02 L204.10,610.14 L204.93,610.26 L205.75,610.40 L206.58,610.55 L207.40,610.72 L208.22,610.90 L209.05,611.10 L209.87,611.31 L210.70,611.55 L211.52,611.81 L212.34,612.09 L213.17,612.40 L213.99,612.73 L214.82,613.09 L215.64,613.48 L216.46,613.91 L217.29,614.37 L218.11,614.86 L218.94,615.40 L219.76,615.97 L220.58,616.59 L221.41,617.25 L222.23,617.95 L223.06,618.70 L223.88,619.50 L224.70,620.35 L225.53,621.24 L226.35,622.18 L227.18,623.17 L228.00,624.20 L228.82,625.27 L229.65,626.38 L230.47,627.53 L231.30,628.71 L232.12,629.92 L232.94,631.15 L233.77,632.40 L234.59,633.67 L235.42,634.94 L236.24,636.21 L237.06,637.47 L237.89,638.73 L238.71,639.97 L239.54,641.18 L240.36,642.37 L241.18,643.53 L242.01,644.65 L242.83,645.74 L243.66,646.78 L244.48,647.78 L245.30,648.73 L246.13,649.64 L246.95,650.50 L247.78,651.31 L248.60,652.07 L249.42,652.79 L250.25,653.46 L251.07,654.09 L251.90,654.68 L252.72,655.22 L253.54,655.73 L254.37,656.20 L255.19,656.63 L256.02,657.04 L256.84,657.41 L257.66,657.75 L258.49,658.06 L259.31,658.35 L260.14,658.61 L260.96,658.86 L261.78,659.08 L262.61,659.28 L263.43,659.47 L264.26,659.64 L265.08,659.79 L265.90,659.93 L266.73,660.06 L267.55,660.18 L268.38,660.29 L269.20,660.39" stroke="#B20F30" fill="none" stroke-width="1.5" stroke-linecap="round"/>
<path d="M186.80,607.96 L187.62,607.96 L188.45,607.96 L189.27,607.96 L190.10,607.96 L190.92,607.96 L191.74,607.96 L192.57,607.96 L193.39,607.96 L194.22,607.96 L195.04,607.96 L195.86,607.96 L196.69,607.96 L197.51,607.97 L198.34,607.97 L199.16,607.97 L199.98,607.97 L200.81,607.97 L201.63,607.98 L202.46,607.98 L203.28,607.98 L204.10,607.99 L204.93,607.99 L205.75,607.99 L206.58,608.00 L207.40,608.00 L208.22,608.01 L209.05,608.02 L209.87,608.03 L210.70,608.03 L211.52,608.04 L212.34,608.06 L213.17,608.07 L213.99,608.08 L214.82,608.10 L215.64,608.12 L216.46,608.14 L217.29,608.16 L218.11,608.18 L218.94,608.21 L219.76,608.24 L220.58,608.28 L221.41,608.32 L222.23,608.36 L223.06,608.41 L223.88,608.47 L224.70,608.53 L225.53,608.60 L226.35,608.68 L227.18,608.77 L228.00,608.87 L228.82,608.98 L229.65,609.10 L230.47,609.24 L231.30,609.39 L232.12,609.56 L232.94,609.75 L233.77,609.96 L234.59,610.20 L235.42,610.47 L236.24,610.76 L237.06,611.09 L237.89,611.45 L238.71,611.85 L239.54,612.29 L240.36,612.78 L241.18,613.32 L242.01,613.92 L242.83,614.57 L243.66,615.28 L244.48,616.06 L245.30,616.91 L246.13,617.84 L246.95,618.84 L247.78,619.91 L248.60,621.07 L249.42,622.30 L250.25,623.61 L251.07,625.01 L251.90,626.47 L252.72,628.01 L253.54,629.61 L254.37,631.26 L255.19,632.97 L256.02,634.71 L256.84,636.48 L257.66,638.27 L258.49,640.07 L259.31,641.85 L260.14,643.62 L260.96,645.36 L261.78,647.06 L262.61,648.71 L263.43,650.30 L264.26,651.82 L265.08,653.28 L265.90,654.66 L266.73,655.96 L267.55,657.18 L268.38,658.32 L269.20,659.38" stroke="#1C4289" fill="none" stroke-width="1.5" stroke-linecap="round"/>
<circle cx="216.5" cy="619.5" r="1.7" fill="#B20F30"/>
<circle cx="231.5" cy="629.2" r="1.7" fill="#B20F30"/>
<circle cx="240.8" cy="643" r="1.7" fill="#B20F30"/>
<circle cx="246.5" cy="648.2" r="1.7" fill="#B20F30"/>
<circle cx="251.5" cy="654.6" r="1.7" fill="#B20F30"/>
<circle cx="255.4" cy="657.4" r="1.7" fill="#B20F30"/>
<circle cx="260" cy="659" r="1.7" fill="#B20F30"/>
<circle cx="264.6" cy="660" r="1.7" fill="#B20F30"/>
<circle cx="267.7" cy="660.5" r="1.7" fill="#B20F30"/>
<rect x="214.85" y="606.55" width="3.3" height="3.3" fill="#1C4289"/>
<rect x="229.85" y="611.15" width="3.3" height="3.3" fill="#1C4289"/>
<rect x="238.75" y="613.75" width="3.3" height="3.3" fill="#1C4289"/>
<rect x="245.25" y="618.85" width="3.3" height="3.3" fill="#1C4289"/>
<rect x="249.85" y="624.05" width="3.3" height="3.3" fill="#1C4289"/>
<rect x="253.75" y="631.35" width="3.3" height="3.3" fill="#1C4289"/>
<rect x="257.55" y="638.85" width="3.3" height="3.3" fill="#1C4289"/>
<rect x="260.15" y="646.05" width="3.3" height="3.3" fill="#1C4289"/>
<rect x="262.65" y="650.65" width="3.3" height="3.3" fill="#1C4289"/>
<rect x="265.75" y="655.35" width="3.3" height="3.3" fill="#1C4289"/>
<rect x="266.85" y="658.35" width="3.3" height="3.3" fill="#1C4289"/>
<line x1="234.2" y1="634.5" x2="255.5" y2="634.5" stroke="#111" stroke-width="0.9"/>
<line x1="234.2" y1="632.5" x2="234.2" y2="636.5" stroke="#111" stroke-width="0.9"/>
<line x1="255.5" y1="632.5" x2="255.5" y2="636.5" stroke="#111" stroke-width="0.9"/>
<text x="244.85" y="634.52" font-size="5.8" text-anchor="middle" fill="#1a1a1a" stroke="#1a1a1a" stroke-width="0.12">***</text>
<circle cx="186.9" cy="608.5" r="1.8" fill="#1C4289"/>
<line x1="262.5" y1="606.6" x2="270.3" y2="606.6" stroke="#1C4289" stroke-width="1.5"/>
<rect x="264.9" y="605" width="3.2" height="3.2" fill="#1C4289"/>
<text x="273" y="608.9" font-size="6.5" fill="#1a1a1a" textLength="27" lengthAdjust="spacingAndGlyphs" stroke="#1a1a1a" stroke-width="0.03">AYNE + C7</text>
<line x1="262.5" y1="615.8" x2="270.3" y2="615.8" stroke="#B20F30" stroke-width="1.5"/>
<circle cx="266.5" cy="615.8" r="1.7" fill="#B20F30"/>
<text x="273" y="618.1" font-size="6.5" fill="#1a1a1a" textLength="13" lengthAdjust="spacingAndGlyphs" stroke="#1a1a1a" stroke-width="0.03">AYNE</text>
<rect x="0.5" y="0.5" width="519" height="695" fill="none" stroke="#000" stroke-width="1"/>
</svg></body></html>
